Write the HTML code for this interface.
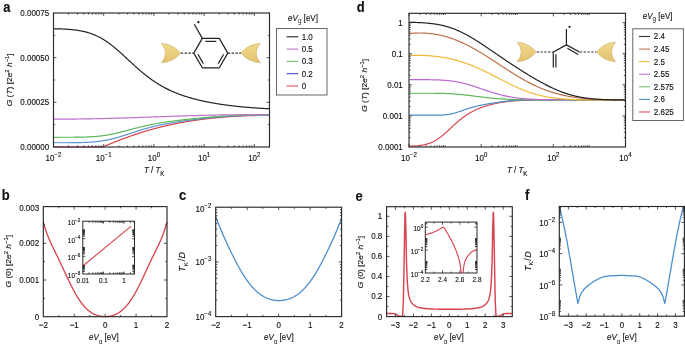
<!DOCTYPE html>
<html><head><meta charset="utf-8"><style>
html,body{margin:0;padding:0;background:#fff;}
svg{display:block;filter:blur(0.35px);font-family:"Liberation Sans", sans-serif;}
text{fill:#111;stroke:#111;stroke-width:0.12px;}
</style></head><body>
<svg width="685" height="344" viewBox="0 0 685 344">
<defs><linearGradient id="gold" x1="0" y1="0" x2="0" y2="1"><stop offset="0" stop-color="#f1da8c"/><stop offset="1" stop-color="#e4c170"/></linearGradient></defs>
<rect width="685" height="344" fill="#fff"/>
<path d="M53.5,147 L103,147" fill="none" stroke="#c8323c" stroke-width="1.0" stroke-linejoin="round"/>
<path d="M103,147 L103.5,146.56 L104,146.35 L104.5,146.15 L105,145.94 L105.5,145.73 L106,145.53 L106.5,145.32 L107,145.12 L107.5,144.91 L108,144.71 L108.5,144.51 L109,144.3 L109.5,144.1 L110,143.9 L110.5,143.7 L111,143.49 L111.5,143.29 L112,143.09 L112.5,142.89 L113,142.69 L113.5,142.5 L114,142.3 L114.5,142.1 L115,141.9 L115.5,141.71 L116,141.51 L116.5,141.32 L117,141.12 L117.5,140.93 L118,140.73 L118.5,140.54 L119,140.35 L119.5,140.16 L120,139.97 L120.5,139.78 L121,139.59 L121.5,139.4 L122,139.21 L122.5,139.02 L123,138.83 L123.5,138.65 L124,138.46 L124.5,138.28 L125,138.09 L125.5,137.91 L126,137.73 L126.5,137.55 L127,137.37 L127.5,137.19 L128,137.01 L128.5,136.83 L129,136.65 L129.5,136.47 L130,136.3 L130.5,136.12 L131,135.95 L131.5,135.77 L132,135.6 L132.5,135.43 L133,135.25 L133.5,135.08 L134,134.91 L134.5,134.74 L135,134.57 L135.5,134.41 L136,134.24 L136.5,134.07 L137,133.91 L137.5,133.74 L138,133.58 L138.5,133.42 L139,133.26 L139.5,133.1 L140,132.94 L140.5,132.78 L141,132.62 L141.5,132.46 L142,132.3 L142.5,132.15 L143,131.99 L143.5,131.84 L144,131.68 L144.5,131.53 L145,131.38 L145.5,131.23 L146,131.08 L146.5,130.93 L147,130.78 L147.5,130.63 L148,130.49 L148.5,130.34 L149,130.2 L149.5,130.05 L150,129.91 L150.5,129.77 L151,129.63 L151.5,129.48 L152,129.35 L152.5,129.21 L153,129.07 L153.5,128.93 L154,128.79 L154.5,128.66 L155,128.52 L155.5,128.39 L156,128.26 L156.5,128.13 L157,127.99 L157.5,127.86 L158,127.73 L158.5,127.61 L159,127.48 L159.5,127.35 L160,127.22 L160.5,127.1 L161,126.98 L161.5,126.85 L162,126.73 L162.5,126.61 L163,126.49 L163.5,126.37 L164,126.25 L164.5,126.13 L165,126.01 L165.5,125.89 L166,125.78 L166.5,125.66 L167,125.55 L167.5,125.43 L168,125.32 L168.5,125.21 L169,125.1 L169.5,124.98 L170,124.88 L170.5,124.77 L171,124.66 L171.5,124.55 L172,124.44 L172.5,124.34 L173,124.23 L173.5,124.13 L174,124.03 L174.5,123.92 L175,123.82 L175.5,123.72 L176,123.62 L176.5,123.52 L177,123.42 L177.5,123.32 L178,123.23 L178.5,123.13 L179,123.03 L179.5,122.94 L180,122.84 L180.5,122.75 L181,122.66 L181.5,122.56 L182,122.47 L182.5,122.38 L183,122.29 L183.5,122.2 L184,122.11 L184.5,122.03 L185,121.94 L185.5,121.85 L186,121.77 L186.5,121.68 L187,121.6 L187.5,121.52 L188,121.43 L188.5,121.35 L189,121.27 L189.5,121.19 L190,121.11 L190.5,121.03 L191,120.95 L191.5,120.87 L192,120.79 L192.5,120.72 L193,120.64 L193.5,120.57 L194,120.49 L194.5,120.42 L195,120.34 L195.5,120.27 L196,120.2 L196.5,120.13 L197,120.06 L197.5,119.99 L198,119.92 L198.5,119.85 L199,119.78 L199.5,119.71 L200,119.64 L200.5,119.58 L201,119.51 L201.5,119.45 L202,119.38 L202.5,119.32 L203,119.26 L203.5,119.19 L204,119.13 L204.5,119.07 L205,119.01 L205.5,118.95 L206,118.89 L206.5,118.83 L207,118.77 L207.5,118.71 L208,118.65 L208.5,118.6 L209,118.54 L209.5,118.49 L210,118.43 L210.5,118.38 L211,118.32 L211.5,118.27 L212,118.22 L212.5,118.16 L213,118.11 L213.5,118.06 L214,118.01 L214.5,117.96 L215,117.91 L215.5,117.86 L216,117.81 L216.5,117.76 L217,117.72 L217.5,117.67 L218,117.62 L218.5,117.58 L219,117.53 L219.5,117.49 L220,117.44 L220.5,117.4 L221,117.36 L221.5,117.31 L222,117.27 L222.5,117.23 L223,117.19 L223.5,117.15 L224,117.11 L224.5,117.07 L225,117.03 L225.5,116.99 L226,116.95 L226.5,116.91 L227,116.88 L227.5,116.84 L228,116.8 L228.5,116.77 L229,116.73 L229.5,116.7 L230,116.66 L230.5,116.63 L231,116.6 L231.5,116.56 L232,116.53 L232.5,116.5 L233,116.47 L233.5,116.44 L234,116.41 L234.5,116.38 L235,116.35 L235.5,116.32 L236,116.29 L236.5,116.26 L237,116.23 L237.5,116.21 L238,116.18 L238.5,116.15 L239,116.13 L239.5,116.1 L240,116.08 L240.5,116.05 L241,116.03 L241.5,116 L242,115.98 L242.5,115.96 L243,115.94 L243.5,115.91 L244,115.89 L244.5,115.87 L245,115.85 L245.5,115.83 L246,115.81 L246.5,115.79 L247,115.77 L247.5,115.76 L248,115.74 L248.5,115.72 L249,115.7 L249.5,115.69 L250,115.67 L250.5,115.66 L251,115.64 L251.5,115.63 L252,115.61 L252.5,115.6 L253,115.58 L253.5,115.57 L254,115.56 L254.5,115.55 L255,115.53 L255.5,115.52 L256,115.51 L256.5,115.5 L257,115.49 L257.5,115.48 L258,115.47 L258.5,115.46 L259,115.46 L259.5,115.45 L260,115.44 L260.5,115.43 L261,115.43 L261.5,115.42 L262,115.41 L262.5,115.41 L263,115.4 L263.5,115.4 L264,115.4 L264.5,115.39 L265,115.39 L265.5,115.39 L266,115.38 L266.5,115.38 L267,115.38 L267.5,115.38 L268,115.38 L268.5,115.38 L269,115.38 L269.5,115.38" fill="none" stroke="#d8404a" stroke-width="1.2" stroke-linejoin="round"/>
<path d="M53.5,142.76 L54,142.76 L54.5,142.76 L55,142.76 L55.5,142.76 L56,142.76 L56.5,142.76 L57,142.76 L57.5,142.76 L58,142.76 L58.5,142.76 L59,142.76 L59.5,142.76 L60,142.76 L60.5,142.76 L61,142.75 L61.5,142.75 L62,142.75 L62.5,142.75 L63,142.75 L63.5,142.75 L64,142.75 L64.5,142.75 L65,142.74 L65.5,142.74 L66,142.74 L66.5,142.74 L67,142.74 L67.5,142.73 L68,142.73 L68.5,142.73 L69,142.73 L69.5,142.72 L70,142.72 L70.5,142.72 L71,142.71 L71.5,142.71 L72,142.7 L72.5,142.7 L73,142.69 L73.5,142.69 L74,142.68 L74.5,142.68 L75,142.67 L75.5,142.66 L76,142.66 L76.5,142.65 L77,142.64 L77.5,142.63 L78,142.62 L78.5,142.61 L79,142.6 L79.5,142.59 L80,142.58 L80.5,142.57 L81,142.56 L81.5,142.54 L82,142.53 L82.5,142.51 L83,142.5 L83.5,142.48 L84,142.46 L84.5,142.44 L85,142.43 L85.5,142.41 L86,142.38 L86.5,142.36 L87,142.34 L87.5,142.31 L88,142.29 L88.5,142.26 L89,142.23 L89.5,142.2 L90,142.17 L90.5,142.14 L91,142.11 L91.5,142.07 L92,142.03 L92.5,142 L93,141.96 L93.5,141.92 L94,141.87 L94.5,141.83 L95,141.78 L95.5,141.73 L96,141.68 L96.5,141.63 L97,141.58 L97.5,141.52 L98,141.46 L98.5,141.4 L99,141.34 L99.5,141.28 L100,141.21 L100.5,141.14 L101,141.07 L101.5,141 L102,140.92 L102.5,140.85 L103,140.77 L103.5,140.68 L104,140.6 L104.5,140.51 L105,140.42 L105.5,140.33 L106,140.24 L106.5,140.14 L107,140.05 L107.5,139.95 L108,139.84 L108.5,139.74 L109,139.63 L109.5,139.52 L110,139.41 L110.5,139.29 L111,139.18 L111.5,139.06 L112,138.93 L112.5,138.81 L113,138.69 L113.5,138.56 L114,138.43 L114.5,138.3 L115,138.16 L115.5,138.03 L116,137.89 L116.5,137.75 L117,137.61 L117.5,137.46 L118,137.32 L118.5,137.17 L119,137.03 L119.5,136.88 L120,136.73 L120.5,136.57 L121,136.42 L121.5,136.27 L122,136.11 L122.5,135.95 L123,135.8 L123.5,135.64 L124,135.48 L124.5,135.32 L125,135.16 L125.5,134.99 L126,134.83 L126.5,134.67 L127,134.51 L127.5,134.34 L128,134.18 L128.5,134.01 L129,133.85 L129.5,133.69 L130,133.52 L130.5,133.36 L131,133.19 L131.5,133.03 L132,132.87 L132.5,132.7 L133,132.54 L133.5,132.38 L134,132.21 L134.5,132.05 L135,131.89 L135.5,131.73 L136,131.57 L136.5,131.41 L137,131.25 L137.5,131.09 L138,130.94 L138.5,130.78 L139,130.62 L139.5,130.47 L140,130.32 L140.5,130.16 L141,130.01 L141.5,129.86 L142,129.71 L142.5,129.56 L143,129.42 L143.5,129.27 L144,129.12 L144.5,128.98 L145,128.84 L145.5,128.7 L146,128.55 L146.5,128.42 L147,128.28 L147.5,128.14 L148,128 L148.5,127.87 L149,127.74 L149.5,127.6 L150,127.47 L150.5,127.34 L151,127.22 L151.5,127.09 L152,126.96 L152.5,126.84 L153,126.71 L153.5,126.59 L154,126.47 L154.5,126.35 L155,126.23 L155.5,126.11 L156,126 L156.5,125.88 L157,125.77 L157.5,125.66 L158,125.54 L158.5,125.43 L159,125.32 L159.5,125.21 L160,125.11 L160.5,125 L161,124.89 L161.5,124.79 L162,124.69 L162.5,124.58 L163,124.48 L163.5,124.38 L164,124.28 L164.5,124.19 L165,124.09 L165.5,123.99 L166,123.9 L166.5,123.8 L167,123.71 L167.5,123.61 L168,123.52 L168.5,123.43 L169,123.34 L169.5,123.25 L170,123.16 L170.5,123.07 L171,122.99 L171.5,122.9 L172,122.81 L172.5,122.73 L173,122.65 L173.5,122.56 L174,122.48 L174.5,122.4 L175,122.32 L175.5,122.23 L176,122.15 L176.5,122.07 L177,122 L177.5,121.92 L178,121.84 L178.5,121.76 L179,121.69 L179.5,121.61 L180,121.54 L180.5,121.46 L181,121.39 L181.5,121.31 L182,121.24 L182.5,121.17 L183,121.09 L183.5,121.02 L184,120.95 L184.5,120.88 L185,120.81 L185.5,120.74 L186,120.67 L186.5,120.6 L187,120.53 L187.5,120.47 L188,120.4 L188.5,120.33 L189,120.26 L189.5,120.2 L190,120.13 L190.5,120.07 L191,120 L191.5,119.94 L192,119.87 L192.5,119.81 L193,119.74 L193.5,119.68 L194,119.62 L194.5,119.56 L195,119.49 L195.5,119.43 L196,119.37 L196.5,119.31 L197,119.25 L197.5,119.19 L198,119.13 L198.5,119.07 L199,119.01 L199.5,118.95 L200,118.9 L200.5,118.84 L201,118.78 L201.5,118.72 L202,118.67 L202.5,118.61 L203,118.56 L203.5,118.5 L204,118.45 L204.5,118.39 L205,118.34 L205.5,118.28 L206,118.23 L206.5,118.18 L207,118.12 L207.5,118.07 L208,118.02 L208.5,117.97 L209,117.92 L209.5,117.87 L210,117.82 L210.5,117.77 L211,117.72 L211.5,117.67 L212,117.62 L212.5,117.57 L213,117.53 L213.5,117.48 L214,117.43 L214.5,117.39 L215,117.34 L215.5,117.3 L216,117.25 L216.5,117.21 L217,117.16 L217.5,117.12 L218,117.08 L218.5,117.04 L219,116.99 L219.5,116.95 L220,116.91 L220.5,116.87 L221,116.83 L221.5,116.79 L222,116.75 L222.5,116.72 L223,116.68 L223.5,116.64 L224,116.6 L224.5,116.57 L225,116.53 L225.5,116.5 L226,116.46 L226.5,116.43 L227,116.4 L227.5,116.36 L228,116.33 L228.5,116.3 L229,116.27 L229.5,116.24 L230,116.21 L230.5,116.18 L231,116.15 L231.5,116.12 L232,116.09 L232.5,116.07 L233,116.04 L233.5,116.01 L234,115.99 L234.5,115.96 L235,115.94 L235.5,115.91 L236,115.89 L236.5,115.87 L237,115.84 L237.5,115.82 L238,115.8 L238.5,115.78 L239,115.76 L239.5,115.74 L240,115.72 L240.5,115.7 L241,115.68 L241.5,115.66 L242,115.64 L242.5,115.63 L243,115.61 L243.5,115.59 L244,115.58 L244.5,115.56 L245,115.55 L245.5,115.53 L246,115.52 L246.5,115.5 L247,115.49 L247.5,115.48 L248,115.47 L248.5,115.45 L249,115.44 L249.5,115.43 L250,115.42 L250.5,115.41 L251,115.4 L251.5,115.39 L252,115.38 L252.5,115.37 L253,115.36 L253.5,115.35 L254,115.34 L254.5,115.33 L255,115.33 L255.5,115.32 L256,115.31 L256.5,115.3 L257,115.3 L257.5,115.29 L258,115.29 L258.5,115.28 L259,115.27 L259.5,115.27 L260,115.26 L260.5,115.26 L261,115.25 L261.5,115.25 L262,115.24 L262.5,115.24 L263,115.24 L263.5,115.23 L264,115.23 L264.5,115.22 L265,115.22 L265.5,115.22 L266,115.21 L266.5,115.21 L267,115.21 L267.5,115.21 L268,115.2 L268.5,115.2 L269,115.2 L269.5,115.2" fill="none" stroke="#5b93d0" stroke-width="1.2" stroke-linejoin="round"/>
<path d="M53.5,137.28 L54,137.28 L54.5,137.28 L55,137.28 L55.5,137.28 L56,137.28 L56.5,137.28 L57,137.28 L57.5,137.28 L58,137.28 L58.5,137.28 L59,137.28 L59.5,137.28 L60,137.27 L60.5,137.27 L61,137.27 L61.5,137.27 L62,137.27 L62.5,137.27 L63,137.27 L63.5,137.27 L64,137.27 L64.5,137.27 L65,137.27 L65.5,137.27 L66,137.26 L66.5,137.26 L67,137.26 L67.5,137.26 L68,137.26 L68.5,137.26 L69,137.25 L69.5,137.25 L70,137.25 L70.5,137.25 L71,137.24 L71.5,137.24 L72,137.24 L72.5,137.24 L73,137.23 L73.5,137.23 L74,137.22 L74.5,137.22 L75,137.22 L75.5,137.21 L76,137.21 L76.5,137.2 L77,137.19 L77.5,137.19 L78,137.18 L78.5,137.17 L79,137.17 L79.5,137.16 L80,137.15 L80.5,137.14 L81,137.13 L81.5,137.12 L82,137.11 L82.5,137.1 L83,137.09 L83.5,137.07 L84,137.06 L84.5,137.05 L85,137.03 L85.5,137.02 L86,137 L86.5,136.98 L87,136.96 L87.5,136.94 L88,136.92 L88.5,136.9 L89,136.88 L89.5,136.86 L90,136.83 L90.5,136.81 L91,136.78 L91.5,136.75 L92,136.72 L92.5,136.69 L93,136.66 L93.5,136.63 L94,136.59 L94.5,136.56 L95,136.52 L95.5,136.48 L96,136.44 L96.5,136.4 L97,136.35 L97.5,136.31 L98,136.26 L98.5,136.21 L99,136.16 L99.5,136.11 L100,136.05 L100.5,136 L101,135.94 L101.5,135.88 L102,135.82 L102.5,135.75 L103,135.69 L103.5,135.62 L104,135.55 L104.5,135.48 L105,135.4 L105.5,135.33 L106,135.25 L106.5,135.17 L107,135.09 L107.5,135.01 L108,134.92 L108.5,134.83 L109,134.74 L109.5,134.65 L110,134.56 L110.5,134.46 L111,134.36 L111.5,134.26 L112,134.16 L112.5,134.06 L113,133.96 L113.5,133.85 L114,133.74 L114.5,133.63 L115,133.52 L115.5,133.41 L116,133.29 L116.5,133.17 L117,133.06 L117.5,132.94 L118,132.82 L118.5,132.7 L119,132.57 L119.5,132.45 L120,132.32 L120.5,132.2 L121,132.07 L121.5,131.94 L122,131.81 L122.5,131.68 L123,131.55 L123.5,131.42 L124,131.29 L124.5,131.16 L125,131.02 L125.5,130.89 L126,130.76 L126.5,130.62 L127,130.49 L127.5,130.35 L128,130.22 L128.5,130.09 L129,129.95 L129.5,129.82 L130,129.68 L130.5,129.55 L131,129.41 L131.5,129.28 L132,129.15 L132.5,129.01 L133,128.88 L133.5,128.75 L134,128.62 L134.5,128.49 L135,128.36 L135.5,128.23 L136,128.1 L136.5,127.97 L137,127.84 L137.5,127.71 L138,127.59 L138.5,127.46 L139,127.34 L139.5,127.21 L140,127.09 L140.5,126.97 L141,126.85 L141.5,126.73 L142,126.61 L142.5,126.49 L143,126.37 L143.5,126.25 L144,126.14 L144.5,126.02 L145,125.91 L145.5,125.8 L146,125.69 L146.5,125.58 L147,125.47 L147.5,125.36 L148,125.25 L148.5,125.14 L149,125.04 L149.5,124.94 L150,124.83 L150.5,124.73 L151,124.63 L151.5,124.53 L152,124.43 L152.5,124.33 L153,124.23 L153.5,124.14 L154,124.04 L154.5,123.95 L155,123.86 L155.5,123.76 L156,123.67 L156.5,123.58 L157,123.49 L157.5,123.4 L158,123.32 L158.5,123.23 L159,123.14 L159.5,123.06 L160,122.98 L160.5,122.89 L161,122.81 L161.5,122.73 L162,122.65 L162.5,122.57 L163,122.49 L163.5,122.41 L164,122.33 L164.5,122.25 L165,122.18 L165.5,122.1 L166,122.03 L166.5,121.95 L167,121.88 L167.5,121.81 L168,121.73 L168.5,121.66 L169,121.59 L169.5,121.52 L170,121.45 L170.5,121.38 L171,121.31 L171.5,121.25 L172,121.18 L172.5,121.11 L173,121.04 L173.5,120.98 L174,120.91 L174.5,120.85 L175,120.78 L175.5,120.72 L176,120.65 L176.5,120.59 L177,120.53 L177.5,120.47 L178,120.4 L178.5,120.34 L179,120.28 L179.5,120.22 L180,120.16 L180.5,120.1 L181,120.04 L181.5,119.98 L182,119.92 L182.5,119.86 L183,119.81 L183.5,119.75 L184,119.69 L184.5,119.63 L185,119.58 L185.5,119.52 L186,119.46 L186.5,119.41 L187,119.35 L187.5,119.3 L188,119.24 L188.5,119.18 L189,119.13 L189.5,119.08 L190,119.02 L190.5,118.97 L191,118.91 L191.5,118.86 L192,118.81 L192.5,118.75 L193,118.7 L193.5,118.65 L194,118.6 L194.5,118.55 L195,118.49 L195.5,118.44 L196,118.39 L196.5,118.34 L197,118.29 L197.5,118.24 L198,118.19 L198.5,118.14 L199,118.09 L199.5,118.04 L200,117.99 L200.5,117.95 L201,117.9 L201.5,117.85 L202,117.8 L202.5,117.75 L203,117.71 L203.5,117.66 L204,117.61 L204.5,117.57 L205,117.52 L205.5,117.47 L206,117.43 L206.5,117.38 L207,117.34 L207.5,117.3 L208,117.25 L208.5,117.21 L209,117.16 L209.5,117.12 L210,117.08 L210.5,117.04 L211,116.99 L211.5,116.95 L212,116.91 L212.5,116.87 L213,116.83 L213.5,116.79 L214,116.75 L214.5,116.71 L215,116.67 L215.5,116.63 L216,116.6 L216.5,116.56 L217,116.52 L217.5,116.48 L218,116.45 L218.5,116.41 L219,116.38 L219.5,116.34 L220,116.31 L220.5,116.27 L221,116.24 L221.5,116.21 L222,116.17 L222.5,116.14 L223,116.11 L223.5,116.08 L224,116.05 L224.5,116.02 L225,115.99 L225.5,115.96 L226,115.93 L226.5,115.9 L227,115.87 L227.5,115.85 L228,115.82 L228.5,115.79 L229,115.77 L229.5,115.74 L230,115.72 L230.5,115.69 L231,115.67 L231.5,115.65 L232,115.62 L232.5,115.6 L233,115.58 L233.5,115.56 L234,115.54 L234.5,115.52 L235,115.5 L235.5,115.48 L236,115.46 L236.5,115.44 L237,115.42 L237.5,115.4 L238,115.39 L238.5,115.37 L239,115.35 L239.5,115.34 L240,115.32 L240.5,115.31 L241,115.29 L241.5,115.28 L242,115.26 L242.5,115.25 L243,115.24 L243.5,115.22 L244,115.21 L244.5,115.2 L245,115.19 L245.5,115.18 L246,115.17 L246.5,115.16 L247,115.15 L247.5,115.14 L248,115.13 L248.5,115.12 L249,115.11 L249.5,115.1 L250,115.09 L250.5,115.09 L251,115.08 L251.5,115.07 L252,115.06 L252.5,115.06 L253,115.05 L253.5,115.05 L254,115.04 L254.5,115.03 L255,115.03 L255.5,115.02 L256,115.02 L256.5,115.01 L257,115.01 L257.5,115 L258,115 L258.5,115 L259,114.99 L259.5,114.99 L260,114.99 L260.5,114.98 L261,114.98 L261.5,114.98 L262,114.97 L262.5,114.97 L263,114.97 L263.5,114.96 L264,114.96 L264.5,114.96 L265,114.96 L265.5,114.96 L266,114.95 L266.5,114.95 L267,114.95 L267.5,114.95 L268,114.95 L268.5,114.95 L269,114.94 L269.5,114.94" fill="none" stroke="#5fb85a" stroke-width="1.2" stroke-linejoin="round"/>
<path d="M53.5,119.08 L54,119.08 L54.5,119.09 L55,119.09 L55.5,119.09 L56,119.09 L56.5,119.1 L57,119.1 L57.5,119.1 L58,119.1 L58.5,119.1 L59,119.1 L59.5,119.1 L60,119.11 L60.5,119.11 L61,119.11 L61.5,119.11 L62,119.11 L62.5,119.11 L63,119.11 L63.5,119.11 L64,119.1 L64.5,119.1 L65,119.1 L65.5,119.1 L66,119.1 L66.5,119.1 L67,119.1 L67.5,119.09 L68,119.09 L68.5,119.09 L69,119.09 L69.5,119.08 L70,119.08 L70.5,119.08 L71,119.07 L71.5,119.07 L72,119.07 L72.5,119.06 L73,119.06 L73.5,119.06 L74,119.05 L74.5,119.05 L75,119.04 L75.5,119.04 L76,119.03 L76.5,119.03 L77,119.02 L77.5,119.02 L78,119.01 L78.5,119.01 L79,119 L79.5,118.99 L80,118.99 L80.5,118.98 L81,118.98 L81.5,118.97 L82,118.96 L82.5,118.96 L83,118.95 L83.5,118.94 L84,118.93 L84.5,118.93 L85,118.92 L85.5,118.91 L86,118.9 L86.5,118.89 L87,118.89 L87.5,118.88 L88,118.87 L88.5,118.86 L89,118.85 L89.5,118.84 L90,118.83 L90.5,118.83 L91,118.82 L91.5,118.81 L92,118.8 L92.5,118.79 L93,118.78 L93.5,118.77 L94,118.76 L94.5,118.75 L95,118.74 L95.5,118.73 L96,118.72 L96.5,118.71 L97,118.7 L97.5,118.68 L98,118.67 L98.5,118.66 L99,118.65 L99.5,118.64 L100,118.63 L100.5,118.62 L101,118.61 L101.5,118.59 L102,118.58 L102.5,118.57 L103,118.56 L103.5,118.55 L104,118.53 L104.5,118.52 L105,118.51 L105.5,118.5 L106,118.48 L106.5,118.47 L107,118.46 L107.5,118.44 L108,118.43 L108.5,118.42 L109,118.4 L109.5,118.39 L110,118.38 L110.5,118.36 L111,118.35 L111.5,118.34 L112,118.32 L112.5,118.31 L113,118.3 L113.5,118.28 L114,118.27 L114.5,118.25 L115,118.24 L115.5,118.22 L116,118.21 L116.5,118.19 L117,118.18 L117.5,118.17 L118,118.15 L118.5,118.14 L119,118.12 L119.5,118.11 L120,118.09 L120.5,118.08 L121,118.06 L121.5,118.04 L122,118.03 L122.5,118.01 L123,118 L123.5,117.98 L124,117.97 L124.5,117.95 L125,117.94 L125.5,117.92 L126,117.9 L126.5,117.89 L127,117.87 L127.5,117.86 L128,117.84 L128.5,117.82 L129,117.81 L129.5,117.79 L130,117.77 L130.5,117.76 L131,117.74 L131.5,117.73 L132,117.71 L132.5,117.69 L133,117.68 L133.5,117.66 L134,117.64 L134.5,117.63 L135,117.61 L135.5,117.59 L136,117.57 L136.5,117.56 L137,117.54 L137.5,117.52 L138,117.51 L138.5,117.49 L139,117.47 L139.5,117.45 L140,117.44 L140.5,117.42 L141,117.4 L141.5,117.39 L142,117.37 L142.5,117.35 L143,117.33 L143.5,117.32 L144,117.3 L144.5,117.28 L145,117.26 L145.5,117.25 L146,117.23 L146.5,117.21 L147,117.19 L147.5,117.18 L148,117.16 L148.5,117.14 L149,117.12 L149.5,117.11 L150,117.09 L150.5,117.07 L151,117.05 L151.5,117.04 L152,117.02 L152.5,117 L153,116.98 L153.5,116.96 L154,116.95 L154.5,116.93 L155,116.91 L155.5,116.89 L156,116.88 L156.5,116.86 L157,116.84 L157.5,116.82 L158,116.8 L158.5,116.79 L159,116.77 L159.5,116.75 L160,116.73 L160.5,116.72 L161,116.7 L161.5,116.68 L162,116.66 L162.5,116.65 L163,116.63 L163.5,116.61 L164,116.59 L164.5,116.58 L165,116.56 L165.5,116.54 L166,116.52 L166.5,116.51 L167,116.49 L167.5,116.47 L168,116.45 L168.5,116.44 L169,116.42 L169.5,116.4 L170,116.38 L170.5,116.37 L171,116.35 L171.5,116.33 L172,116.31 L172.5,116.3 L173,116.28 L173.5,116.26 L174,116.25 L174.5,116.23 L175,116.21 L175.5,116.19 L176,116.18 L176.5,116.16 L177,116.14 L177.5,116.13 L178,116.11 L178.5,116.09 L179,116.08 L179.5,116.06 L180,116.04 L180.5,116.03 L181,116.01 L181.5,115.99 L182,115.98 L182.5,115.96 L183,115.94 L183.5,115.93 L184,115.91 L184.5,115.9 L185,115.88 L185.5,115.86 L186,115.85 L186.5,115.83 L187,115.82 L187.5,115.8 L188,115.79 L188.5,115.77 L189,115.75 L189.5,115.74 L190,115.72 L190.5,115.71 L191,115.69 L191.5,115.68 L192,115.66 L192.5,115.65 L193,115.63 L193.5,115.62 L194,115.6 L194.5,115.59 L195,115.57 L195.5,115.56 L196,115.54 L196.5,115.53 L197,115.51 L197.5,115.5 L198,115.49 L198.5,115.47 L199,115.46 L199.5,115.44 L200,115.43 L200.5,115.42 L201,115.4 L201.5,115.39 L202,115.38 L202.5,115.36 L203,115.35 L203.5,115.33 L204,115.32 L204.5,115.31 L205,115.3 L205.5,115.28 L206,115.27 L206.5,115.26 L207,115.24 L207.5,115.23 L208,115.22 L208.5,115.21 L209,115.2 L209.5,115.18 L210,115.17 L210.5,115.16 L211,115.15 L211.5,115.14 L212,115.12 L212.5,115.11 L213,115.1 L213.5,115.09 L214,115.08 L214.5,115.07 L215,115.06 L215.5,115.05 L216,115.04 L216.5,115.03 L217,115.02 L217.5,115.01 L218,115 L218.5,114.99 L219,114.98 L219.5,114.97 L220,114.96 L220.5,114.95 L221,114.94 L221.5,114.93 L222,114.92 L222.5,114.91 L223,114.9 L223.5,114.89 L224,114.88 L224.5,114.88 L225,114.87 L225.5,114.86 L226,114.85 L226.5,114.84 L227,114.84 L227.5,114.83 L228,114.82 L228.5,114.81 L229,114.81 L229.5,114.8 L230,114.79 L230.5,114.79 L231,114.78 L231.5,114.77 L232,114.77 L232.5,114.76 L233,114.75 L233.5,114.75 L234,114.74 L234.5,114.74 L235,114.73 L235.5,114.73 L236,114.72 L236.5,114.72 L237,114.71 L237.5,114.71 L238,114.7 L238.5,114.7 L239,114.7 L239.5,114.69 L240,114.69 L240.5,114.68 L241,114.68 L241.5,114.68 L242,114.68 L242.5,114.67 L243,114.67 L243.5,114.67 L244,114.66 L244.5,114.66 L245,114.66 L245.5,114.66 L246,114.66 L246.5,114.66 L247,114.65 L247.5,114.65 L248,114.65 L248.5,114.65 L249,114.65 L249.5,114.65 L250,114.65 L250.5,114.65 L251,114.65 L251.5,114.65 L252,114.65 L252.5,114.65 L253,114.65 L253.5,114.65 L254,114.66 L254.5,114.66 L255,114.66 L255.5,114.66 L256,114.66 L256.5,114.67 L257,114.67 L257.5,114.67 L258,114.67 L258.5,114.68 L259,114.68 L259.5,114.68 L260,114.69 L260.5,114.69 L261,114.7 L261.5,114.7 L262,114.71 L262.5,114.71 L263,114.72 L263.5,114.72 L264,114.73 L264.5,114.73 L265,114.74 L265.5,114.74 L266,114.75 L266.5,114.76 L267,114.76 L267.5,114.77 L268,114.78 L268.5,114.78 L269,114.79 L269.5,114.8" fill="none" stroke="#c070d0" stroke-width="1.2" stroke-linejoin="round"/>
<path d="M53.5,28.75 L54,28.76 L54.5,28.77 L55,28.78 L55.5,28.79 L56,28.8 L56.5,28.81 L57,28.83 L57.5,28.84 L58,28.85 L58.5,28.87 L59,28.88 L59.5,28.9 L60,28.92 L60.5,28.93 L61,28.95 L61.5,28.97 L62,28.99 L62.5,29.01 L63,29.04 L63.5,29.06 L64,29.08 L64.5,29.11 L65,29.14 L65.5,29.16 L66,29.19 L66.5,29.22 L67,29.25 L67.5,29.29 L68,29.32 L68.5,29.36 L69,29.4 L69.5,29.43 L70,29.48 L70.5,29.52 L71,29.56 L71.5,29.61 L72,29.66 L72.5,29.71 L73,29.76 L73.5,29.81 L74,29.87 L74.5,29.92 L75,29.99 L75.5,30.05 L76,30.11 L76.5,30.18 L77,30.25 L77.5,30.32 L78,30.4 L78.5,30.48 L79,30.56 L79.5,30.64 L80,30.73 L80.5,30.82 L81,30.91 L81.5,31.01 L82,31.11 L82.5,31.21 L83,31.32 L83.5,31.43 L84,31.54 L84.5,31.66 L85,31.78 L85.5,31.9 L86,32.03 L86.5,32.16 L87,32.3 L87.5,32.44 L88,32.59 L88.5,32.74 L89,32.89 L89.5,33.05 L90,33.21 L90.5,33.38 L91,33.55 L91.5,33.73 L92,33.91 L92.5,34.1 L93,34.29 L93.5,34.49 L94,34.69 L94.5,34.89 L95,35.11 L95.5,35.32 L96,35.54 L96.5,35.77 L97,36.01 L97.5,36.24 L98,36.49 L98.5,36.74 L99,36.99 L99.5,37.25 L100,37.52 L100.5,37.79 L101,38.06 L101.5,38.35 L102,38.63 L102.5,38.93 L103,39.22 L103.5,39.53 L104,39.84 L104.5,40.15 L105,40.47 L105.5,40.8 L106,41.13 L106.5,41.47 L107,41.81 L107.5,42.16 L108,42.51 L108.5,42.86 L109,43.23 L109.5,43.59 L110,43.97 L110.5,44.34 L111,44.72 L111.5,45.11 L112,45.5 L112.5,45.89 L113,46.29 L113.5,46.7 L114,47.1 L114.5,47.52 L115,47.93 L115.5,48.35 L116,48.77 L116.5,49.2 L117,49.63 L117.5,50.06 L118,50.5 L118.5,50.93 L119,51.38 L119.5,51.82 L120,52.27 L120.5,52.71 L121,53.17 L121.5,53.62 L122,54.07 L122.5,54.53 L123,54.99 L123.5,55.45 L124,55.91 L124.5,56.37 L125,56.83 L125.5,57.3 L126,57.76 L126.5,58.23 L127,58.69 L127.5,59.16 L128,59.62 L128.5,60.09 L129,60.55 L129.5,61.02 L130,61.48 L130.5,61.95 L131,62.41 L131.5,62.87 L132,63.34 L132.5,63.8 L133,64.26 L133.5,64.71 L134,65.17 L134.5,65.62 L135,66.08 L135.5,66.53 L136,66.98 L136.5,67.42 L137,67.87 L137.5,68.31 L138,68.75 L138.5,69.19 L139,69.63 L139.5,70.06 L140,70.49 L140.5,70.92 L141,71.34 L141.5,71.77 L142,72.19 L142.5,72.6 L143,73.02 L143.5,73.43 L144,73.83 L144.5,74.24 L145,74.64 L145.5,75.04 L146,75.43 L146.5,75.82 L147,76.21 L147.5,76.59 L148,76.97 L148.5,77.35 L149,77.73 L149.5,78.1 L150,78.46 L150.5,78.83 L151,79.19 L151.5,79.54 L152,79.9 L152.5,80.25 L153,80.59 L153.5,80.93 L154,81.27 L154.5,81.61 L155,81.94 L155.5,82.27 L156,82.59 L156.5,82.92 L157,83.23 L157.5,83.55 L158,83.86 L158.5,84.17 L159,84.47 L159.5,84.77 L160,85.07 L160.5,85.36 L161,85.65 L161.5,85.94 L162,86.23 L162.5,86.51 L163,86.78 L163.5,87.06 L164,87.33 L164.5,87.6 L165,87.86 L165.5,88.12 L166,88.38 L166.5,88.64 L167,88.89 L167.5,89.14 L168,89.39 L168.5,89.63 L169,89.87 L169.5,90.11 L170,90.34 L170.5,90.58 L171,90.81 L171.5,91.03 L172,91.26 L172.5,91.48 L173,91.7 L173.5,91.91 L174,92.13 L174.5,92.34 L175,92.55 L175.5,92.75 L176,92.95 L176.5,93.16 L177,93.35 L177.5,93.55 L178,93.74 L178.5,93.94 L179,94.12 L179.5,94.31 L180,94.5 L180.5,94.68 L181,94.86 L181.5,95.04 L182,95.21 L182.5,95.39 L183,95.56 L183.5,95.73 L184,95.9 L184.5,96.06 L185,96.23 L185.5,96.39 L186,96.55 L186.5,96.71 L187,96.86 L187.5,97.02 L188,97.17 L188.5,97.32 L189,97.47 L189.5,97.62 L190,97.76 L190.5,97.91 L191,98.05 L191.5,98.19 L192,98.33 L192.5,98.47 L193,98.6 L193.5,98.74 L194,98.87 L194.5,99 L195,99.13 L195.5,99.26 L196,99.39 L196.5,99.52 L197,99.64 L197.5,99.76 L198,99.89 L198.5,100.01 L199,100.13 L199.5,100.24 L200,100.36 L200.5,100.48 L201,100.59 L201.5,100.7 L202,100.81 L202.5,100.92 L203,101.03 L203.5,101.14 L204,101.25 L204.5,101.35 L205,101.46 L205.5,101.56 L206,101.67 L206.5,101.77 L207,101.87 L207.5,101.97 L208,102.06 L208.5,102.16 L209,102.26 L209.5,102.35 L210,102.45 L210.5,102.54 L211,102.63 L211.5,102.72 L212,102.82 L212.5,102.9 L213,102.99 L213.5,103.08 L214,103.17 L214.5,103.25 L215,103.34 L215.5,103.42 L216,103.51 L216.5,103.59 L217,103.67 L217.5,103.75 L218,103.83 L218.5,103.91 L219,103.99 L219.5,104.07 L220,104.14 L220.5,104.22 L221,104.3 L221.5,104.37 L222,104.44 L222.5,104.52 L223,104.59 L223.5,104.66 L224,104.73 L224.5,104.8 L225,104.87 L225.5,104.94 L226,105.01 L226.5,105.08 L227,105.14 L227.5,105.21 L228,105.27 L228.5,105.34 L229,105.4 L229.5,105.47 L230,105.53 L230.5,105.59 L231,105.65 L231.5,105.71 L232,105.77 L232.5,105.83 L233,105.89 L233.5,105.95 L234,106.01 L234.5,106.06 L235,106.12 L235.5,106.18 L236,106.23 L236.5,106.29 L237,106.34 L237.5,106.39 L238,106.45 L238.5,106.5 L239,106.55 L239.5,106.6 L240,106.65 L240.5,106.7 L241,106.75 L241.5,106.8 L242,106.85 L242.5,106.9 L243,106.94 L243.5,106.99 L244,107.04 L244.5,107.08 L245,107.13 L245.5,107.17 L246,107.22 L246.5,107.26 L247,107.3 L247.5,107.35 L248,107.39 L248.5,107.43 L249,107.47 L249.5,107.51 L250,107.55 L250.5,107.59 L251,107.63 L251.5,107.67 L252,107.71 L252.5,107.74 L253,107.78 L253.5,107.82 L254,107.85 L254.5,107.89 L255,107.92 L255.5,107.96 L256,107.99 L256.5,108.03 L257,108.06 L257.5,108.09 L258,108.12 L258.5,108.16 L259,108.19 L259.5,108.22 L260,108.25 L260.5,108.28 L261,108.31 L261.5,108.34 L262,108.37 L262.5,108.4 L263,108.42 L263.5,108.45 L264,108.48 L264.5,108.51 L265,108.53 L265.5,108.56 L266,108.58 L266.5,108.61 L267,108.63 L267.5,108.66 L268,108.68 L268.5,108.7 L269,108.73 L269.5,108.75" fill="none" stroke="#222" stroke-width="1.2" stroke-linejoin="round"/>
<rect x="53.5" y="13" width="216" height="134" fill="none" stroke="#2a2a2a" stroke-width="1.15"/>
<path d="M53.5,147v-3M53.5,13v3M103.7,147v-3M103.7,13v3M153.9,147v-3M153.9,13v3M204.1,147v-3M204.1,13v3M254.3,147v-3M254.3,13v3" stroke="#2a2a2a" stroke-width="0.8" fill="none"/>
<path d="M68.61,147v-1.7M68.61,13v1.7M77.45,147v-1.7M77.45,13v1.7M83.72,147v-1.7M83.72,13v1.7M88.59,147v-1.7M88.59,13v1.7M92.56,147v-1.7M92.56,13v1.7M95.92,147v-1.7M95.92,13v1.7M98.84,147v-1.7M98.84,13v1.7M101.4,147v-1.7M101.4,13v1.7M118.81,147v-1.7M118.81,13v1.7M127.65,147v-1.7M127.65,13v1.7M133.92,147v-1.7M133.92,13v1.7M138.79,147v-1.7M138.79,13v1.7M142.76,147v-1.7M142.76,13v1.7M146.12,147v-1.7M146.12,13v1.7M149.04,147v-1.7M149.04,13v1.7M151.6,147v-1.7M151.6,13v1.7M169.01,147v-1.7M169.01,13v1.7M177.85,147v-1.7M177.85,13v1.7M184.12,147v-1.7M184.12,13v1.7M188.99,147v-1.7M188.99,13v1.7M192.96,147v-1.7M192.96,13v1.7M196.32,147v-1.7M196.32,13v1.7M199.24,147v-1.7M199.24,13v1.7M201.8,147v-1.7M201.8,13v1.7M219.21,147v-1.7M219.21,13v1.7M228.05,147v-1.7M228.05,13v1.7M234.32,147v-1.7M234.32,13v1.7M239.19,147v-1.7M239.19,13v1.7M243.16,147v-1.7M243.16,13v1.7M246.52,147v-1.7M246.52,13v1.7M249.44,147v-1.7M249.44,13v1.7M252,147v-1.7M252,13v1.7M269.41,147v-1.7M269.41,13v1.7" stroke="#2a2a2a" stroke-width="0.8" fill="none"/>
<path d="M53.5,102.33h3M269.5,102.33h-3M53.5,57.67h3M269.5,57.67h-3" stroke="#2a2a2a" stroke-width="0.8" fill="none"/>
<path d="M53.5,124.67h1.7M269.5,124.67h-1.7M53.5,80h1.7M269.5,80h-1.7M53.5,35.33h1.7M269.5,35.33h-1.7" stroke="#2a2a2a" stroke-width="0.8" fill="none"/>
<text transform="translate(49.2,149.9) scale(1,1.12)" font-size="8" text-anchor="end">0.00000</text>
<text transform="translate(49.2,105.23) scale(1,1.12)" font-size="8" text-anchor="end">0.00025</text>
<text transform="translate(49.2,60.57) scale(1,1.12)" font-size="8" text-anchor="end">0.00050</text>
<text transform="translate(49.2,15.9) scale(1,1.12)" font-size="8" text-anchor="end">0.00075</text>
<text transform="translate(53.5,161) scale(1,1.12)" font-size="8" text-anchor="middle">10<tspan font-size="6.1" dy="-3.6">−2</tspan></text>
<text transform="translate(103.7,161) scale(1,1.12)" font-size="8" text-anchor="middle">10<tspan font-size="6.1" dy="-3.6">−1</tspan></text>
<text transform="translate(153.9,161) scale(1,1.12)" font-size="8" text-anchor="middle">10<tspan font-size="6.1" dy="-3.6">0</tspan></text>
<text transform="translate(204.1,161) scale(1,1.12)" font-size="8" text-anchor="middle">10<tspan font-size="6.1" dy="-3.6">1</tspan></text>
<text transform="translate(254.3,161) scale(1,1.12)" font-size="8" text-anchor="middle">10<tspan font-size="6.1" dy="-3.6">2</tspan></text>
<text transform="translate(154.2,172.8) scale(1,1.12)" font-size="8" text-anchor="middle"><tspan font-style="italic">T</tspan> / <tspan font-style="italic">T</tspan><tspan font-size="6.2" dy="2.5">K</tspan></text>
<text transform="translate(12.3,79.8) rotate(-90) scale(1.05,1)" font-size="8" text-anchor="middle"><tspan font-style="italic">G</tspan> (<tspan font-style="italic">T</tspan>) [2<tspan font-style="italic">e</tspan><tspan font-size="5.6" dy="-3.2">2</tspan><tspan dy="3.2"> </tspan><tspan font-style="italic">h</tspan><tspan font-size="5.6" dy="-3.2">−1</tspan><tspan dy="3.2">]</tspan></text>
<text transform="translate(3.2,11.6) scale(1,1.18)" font-size="13" font-weight="bold">a</text>
<text transform="translate(303,21.4) scale(1,1.12)" font-size="8" text-anchor="middle"><tspan font-style="italic">eV</tspan><tspan font-size="6.4" dy="1.8" stroke-width="0">g</tspan><tspan dy="-1.8"> [eV]</tspan></text>
<rect x="276.5" y="28.5" width="50.5" height="66.5" fill="none" stroke="#555" stroke-width="0.9"/>
<path d="M286.6,36.8H298.3" stroke="#222" stroke-width="1.1"/>
<text transform="translate(301.7,39.7) scale(1,1.12)" font-size="8" text-anchor="start">1.0</text>
<path d="M286.6,49.1H298.3" stroke="#c070d0" stroke-width="1.1"/>
<text transform="translate(301.7,52) scale(1,1.12)" font-size="8" text-anchor="start">0.5</text>
<path d="M286.6,61.4H298.3" stroke="#70c070" stroke-width="1.1"/>
<text transform="translate(301.7,64.3) scale(1,1.12)" font-size="8" text-anchor="start">0.3</text>
<path d="M286.6,73.7H298.3" stroke="#3a50d0" stroke-width="1.1"/>
<text transform="translate(301.7,76.6) scale(1,1.12)" font-size="8" text-anchor="start">0.2</text>
<path d="M286.6,86H298.3" stroke="#e05060" stroke-width="1.1"/>
<text transform="translate(301.7,88.9) scale(1,1.12)" font-size="8" text-anchor="start">0</text>
<path d="M193.8,53.1 L202.3,38.38 L219.3,38.38 L227.8,53.1 L219.3,67.82 L202.3,67.82Z" fill="none" stroke="#222" stroke-width="1.2" stroke-linejoin="round"/>
<path d="M205.36,41.38L216.24,41.38" stroke="#222" stroke-width="1.2"/>
<path d="M223.67,54.25L218.23,63.67" stroke="#222" stroke-width="1.2"/>
<path d="M203.37,63.67L197.93,54.25" stroke="#222" stroke-width="1.2"/>
<path d="M202.3,38.38L194.3,24.2" stroke="#222" stroke-width="1.2"/>
<circle cx="198.4" cy="22.2" r="1.1" fill="#111"/>
<path d="M180.8,53.1H193.8M227.8,53.1H241" stroke="#333" stroke-width="1.05" stroke-dasharray="2.4,1.4"/>
<path d="M161.5,43.4 Q173.34,44.08 180.6,53.1 Q173.34,62.03 161.5,62.7 Q169.52,53.1 161.5,43.4Z" fill="url(#gold)" stroke="#c9aa5a" stroke-width="0.6"/>
<path d="M260.2,43.4 Q248.3,44.08 241,53.1 Q248.3,62.03 260.2,62.7 Q252.14,53.1 260.2,43.4Z" fill="url(#gold)" stroke="#c9aa5a" stroke-width="0.6"/>
<path d="M409.5,146.09 L410,146.07 L410.5,146.06 L411,146.04 L411.5,146.03 L412,146.01 L412.5,145.99 L413,145.97 L413.5,145.95 L414,145.92 L414.5,145.89 L415,145.87 L415.5,145.83 L416,145.8 L416.5,145.76 L417,145.73 L417.5,145.68 L418,145.64 L418.5,145.59 L419,145.54 L419.5,145.48 L420,145.42 L420.5,145.36 L421,145.29 L421.5,145.22 L422,145.14 L422.5,145.06 L423,144.97 L423.5,144.88 L424,144.78 L424.5,144.68 L425,144.57 L425.5,144.45 L426,144.33 L426.5,144.2 L427,144.07 L427.5,143.92 L428,143.77 L428.5,143.61 L429,143.44 L429.5,143.27 L430,143.09 L430.5,142.89 L431,142.69 L431.5,142.48 L432,142.26 L432.5,142.04 L433,141.8 L433.5,141.55 L434,141.3 L434.5,141.03 L435,140.76 L435.5,140.47 L436,140.18 L436.5,139.87 L437,139.56 L437.5,139.24 L438,138.91 L438.5,138.57 L439,138.22 L439.5,137.86 L440,137.49 L440.5,137.11 L441,136.73 L441.5,136.34 L442,135.94 L442.5,135.53 L443,135.12 L443.5,134.7 L444,134.28 L444.5,133.84 L445,133.41 L445.5,132.97 L446,132.52 L446.5,132.07 L447,131.62 L447.5,131.16 L448,130.7 L448.5,130.24 L449,129.77 L449.5,129.31 L450,128.84 L450.5,128.38 L451,127.91 L451.5,127.44 L452,126.98 L452.5,126.51 L453,126.05 L453.5,125.59 L454,125.13 L454.5,124.67 L455,124.22 L455.5,123.77 L456,123.32 L456.5,122.88 L457,122.44 L457.5,122 L458,121.57 L458.5,121.15 L459,120.73 L459.5,120.31 L460,119.9 L460.5,119.49 L461,119.09 L461.5,118.7 L462,118.31 L462.5,117.92 L463,117.55 L463.5,117.17 L464,116.81 L464.5,116.45 L465,116.09 L465.5,115.74 L466,115.4 L466.5,115.07 L467,114.73 L467.5,114.41 L468,114.09 L468.5,113.78 L469,113.47 L469.5,113.17 L470,112.87 L470.5,112.58 L471,112.3 L471.5,112.02 L472,111.74 L472.5,111.47 L473,111.21 L473.5,110.95 L474,110.7 L474.5,110.45 L475,110.21 L475.5,109.97 L476,109.74 L476.5,109.51 L477,109.28 L477.5,109.06 L478,108.85 L478.5,108.64 L479,108.43 L479.5,108.23 L480,108.03 L480.5,107.83 L481,107.64 L481.5,107.46 L482,107.27 L482.5,107.09 L483,106.92 L483.5,106.75 L484,106.58 L484.5,106.41 L485,106.25 L485.5,106.09 L486,105.94 L486.5,105.79 L487,105.64 L487.5,105.49 L488,105.35 L488.5,105.21 L489,105.07 L489.5,104.94 L490,104.8 L490.5,104.68 L491,104.55 L491.5,104.43 L492,104.3 L492.5,104.19 L493,104.07 L493.5,103.95 L494,103.84 L494.5,103.73 L495,103.63 L495.5,103.52 L496,103.42 L496.5,103.32 L497,103.22 L497.5,103.13 L498,103.03 L498.5,102.94 L499,102.85 L499.5,102.76 L500,102.68 L500.5,102.59 L501,102.51 L501.5,102.43 L502,102.35 L502.5,102.27 L503,102.2 L503.5,102.12 L504,102.05 L504.5,101.98 L505,101.91 L505.5,101.85 L506,101.78 L506.5,101.72 L507,101.66 L507.5,101.6 L508,101.54 L508.5,101.48 L509,101.42 L509.5,101.37 L510,101.32 L510.5,101.26 L511,101.21 L511.5,101.16 L512,101.12 L512.5,101.07 L513,101.03 L513.5,100.98 L514,100.94 L514.5,100.9 L515,100.86 L515.5,100.82 L516,100.78 L516.5,100.74 L517,100.71 L517.5,100.67 L518,100.64 L518.5,100.61 L519,100.58 L519.5,100.55 L520,100.52 L520.5,100.49 L521,100.46 L521.5,100.44 L522,100.41 L522.5,100.39 L523,100.36 L523.5,100.34 L524,100.32 L524.5,100.3 L525,100.28 L525.5,100.26 L526,100.24 L526.5,100.22 L527,100.2 L527.5,100.19 L528,100.17 L528.5,100.16 L529,100.14 L529.5,100.13 L530,100.12 L530.5,100.1 L531,100.09 L531.5,100.08 L532,100.07 L532.5,100.06 L533,100.05 L533.5,100.04 L534,100.03 L534.5,100.02 L535,100.01 L535.5,100 L536,100 L536.5,99.99 L537,99.98 L537.5,99.98 L538,99.97 L538.5,99.96 L539,99.96 L539.5,99.95 L540,99.95 L540.5,99.94 L541,99.94 L541.5,99.94 L542,99.93 L542.5,99.93 L543,99.93 L543.5,99.92 L544,99.92 L544.5,99.92 L545,99.91 L545.5,99.91 L546,99.91 L546.5,99.91 L547,99.9 L547.5,99.9 L548,99.9 L548.5,99.9 L549,99.9 L549.5,99.9 L550,99.9 L550.5,99.89 L551,99.89 L551.5,99.89 L552,99.89 L552.5,99.89 L553,99.89 L553.5,99.89 L554,99.89 L554.5,99.89 L555,99.89 L555.5,99.89 L556,99.89 L556.5,99.88 L557,99.88 L557.5,99.88 L558,99.88 L558.5,99.88 L559,99.88 L559.5,99.88 L560,99.88 L560.5,99.88 L561,99.88 L561.5,99.88 L562,99.88 L562.5,99.88 L563,99.88 L563.5,99.88 L564,99.88 L564.5,99.88 L565,99.88 L565.5,99.88 L566,99.88 L566.5,99.88 L567,99.88 L567.5,99.88 L568,99.88 L568.5,99.88 L569,99.88 L569.5,99.88 L570,99.88 L570.5,99.88 L571,99.88 L571.5,99.88 L572,99.88 L572.5,99.88 L573,99.88 L573.5,99.88 L574,99.88 L574.5,99.88 L575,99.88 L575.5,99.88 L576,99.88 L576.5,99.88 L577,99.88 L577.5,99.88 L578,99.88 L578.5,99.88 L579,99.88 L579.5,99.88 L580,99.88 L580.5,99.88 L581,99.88 L581.5,99.88 L582,99.88 L582.5,99.88 L583,99.88 L583.5,99.88 L584,99.88 L584.5,99.88 L585,99.88 L585.5,99.88 L586,99.88 L586.5,99.88 L587,99.88 L587.5,99.88 L588,99.88 L588.5,99.88 L589,99.88 L589.5,99.88 L590,99.88 L590.5,99.88 L591,99.88 L591.5,99.88 L592,99.88 L592.5,99.88 L593,99.88 L593.5,99.88 L594,99.88 L594.5,99.88 L595,99.88 L595.5,99.88 L596,99.88 L596.5,99.88 L597,99.88 L597.5,99.88 L598,99.88 L598.5,99.88 L599,99.88 L599.5,99.88 L600,99.88 L600.5,99.88 L601,99.88 L601.5,99.88 L602,99.88 L602.5,99.88 L603,99.88 L603.5,99.88 L604,99.88 L604.5,99.88 L605,99.88 L605.5,99.88 L606,99.88 L606.5,99.88 L607,99.88 L607.5,99.88 L608,99.88 L608.5,99.88 L609,99.88 L609.5,99.88 L610,99.88 L610.5,99.88 L611,99.88 L611.5,99.88 L612,99.88 L612.5,99.88 L613,99.88 L613.5,99.88 L614,99.88 L614.5,99.88 L615,99.88 L615.5,99.88 L616,99.88 L616.5,99.88 L617,99.88 L617.5,99.88 L618,99.88 L618.5,99.88 L619,99.88 L619.5,99.88 L620,99.88 L620.5,99.88 L621,99.88 L621.5,99.88 L622,99.88 L622.5,99.88 L623,99.88 L623.5,99.88 L624,99.88 L624.5,99.88 L625,99.88" fill="none" stroke="#dc4a54" stroke-width="1.2" stroke-linejoin="round"/>
<path d="M409.5,115.21 L410,115.21 L410.5,115.21 L411,115.21 L411.5,115.21 L412,115.21 L412.5,115.21 L413,115.21 L413.5,115.21 L414,115.21 L414.5,115.21 L415,115.21 L415.5,115.21 L416,115.21 L416.5,115.21 L417,115.21 L417.5,115.21 L418,115.21 L418.5,115.21 L419,115.21 L419.5,115.21 L420,115.21 L420.5,115.21 L421,115.21 L421.5,115.21 L422,115.21 L422.5,115.21 L423,115.21 L423.5,115.21 L424,115.21 L424.5,115.21 L425,115.21 L425.5,115.21 L426,115.21 L426.5,115.21 L427,115.21 L427.5,115.21 L428,115.21 L428.5,115.21 L429,115.21 L429.5,115.21 L430,115.21 L430.5,115.21 L431,115.2 L431.5,115.2 L432,115.2 L432.5,115.2 L433,115.2 L433.5,115.19 L434,115.19 L434.5,115.19 L435,115.18 L435.5,115.18 L436,115.17 L436.5,115.16 L437,115.16 L437.5,115.15 L438,115.14 L438.5,115.13 L439,115.11 L439.5,115.1 L440,115.08 L440.5,115.07 L441,115.05 L441.5,115.03 L442,115 L442.5,114.97 L443,114.94 L443.5,114.91 L444,114.88 L444.5,114.84 L445,114.8 L445.5,114.75 L446,114.7 L446.5,114.65 L447,114.59 L447.5,114.52 L448,114.46 L448.5,114.38 L449,114.31 L449.5,114.22 L450,114.14 L450.5,114.04 L451,113.95 L451.5,113.84 L452,113.73 L452.5,113.62 L453,113.5 L453.5,113.38 L454,113.25 L454.5,113.11 L455,112.97 L455.5,112.83 L456,112.68 L456.5,112.53 L457,112.38 L457.5,112.22 L458,112.05 L458.5,111.89 L459,111.72 L459.5,111.55 L460,111.38 L460.5,111.21 L461,111.03 L461.5,110.86 L462,110.68 L462.5,110.5 L463,110.33 L463.5,110.15 L464,109.97 L464.5,109.8 L465,109.63 L465.5,109.45 L466,109.28 L466.5,109.11 L467,108.95 L467.5,108.78 L468,108.62 L468.5,108.46 L469,108.3 L469.5,108.14 L470,107.99 L470.5,107.84 L471,107.69 L471.5,107.54 L472,107.4 L472.5,107.26 L473,107.12 L473.5,106.98 L474,106.85 L474.5,106.72 L475,106.59 L475.5,106.46 L476,106.34 L476.5,106.22 L477,106.1 L477.5,105.98 L478,105.87 L478.5,105.76 L479,105.65 L479.5,105.54 L480,105.43 L480.5,105.33 L481,105.22 L481.5,105.12 L482,105.02 L482.5,104.92 L483,104.83 L483.5,104.73 L484,104.64 L484.5,104.54 L485,104.45 L485.5,104.36 L486,104.27 L486.5,104.18 L487,104.09 L487.5,104.01 L488,103.92 L488.5,103.83 L489,103.75 L489.5,103.66 L490,103.58 L490.5,103.5 L491,103.42 L491.5,103.33 L492,103.25 L492.5,103.17 L493,103.09 L493.5,103.01 L494,102.93 L494.5,102.85 L495,102.77 L495.5,102.69 L496,102.62 L496.5,102.54 L497,102.46 L497.5,102.39 L498,102.31 L498.5,102.24 L499,102.16 L499.5,102.09 L500,102.02 L500.5,101.94 L501,101.87 L501.5,101.8 L502,101.73 L502.5,101.66 L503,101.59 L503.5,101.53 L504,101.46 L504.5,101.4 L505,101.33 L505.5,101.27 L506,101.21 L506.5,101.15 L507,101.09 L507.5,101.03 L508,100.98 L508.5,100.92 L509,100.87 L509.5,100.82 L510,100.77 L510.5,100.72 L511,100.67 L511.5,100.63 L512,100.59 L512.5,100.54 L513,100.5 L513.5,100.47 L514,100.43 L514.5,100.39 L515,100.36 L515.5,100.33 L516,100.3 L516.5,100.27 L517,100.24 L517.5,100.22 L518,100.19 L518.5,100.17 L519,100.15 L519.5,100.13 L520,100.11 L520.5,100.09 L521,100.07 L521.5,100.06 L522,100.04 L522.5,100.03 L523,100.02 L523.5,100.01 L524,100 L524.5,99.99 L525,99.98 L525.5,99.97 L526,99.96 L526.5,99.96 L527,99.95 L527.5,99.94 L528,99.94 L528.5,99.93 L529,99.93 L529.5,99.93 L530,99.92 L530.5,99.92 L531,99.92 L531.5,99.92 L532,99.91 L532.5,99.91 L533,99.91 L533.5,99.91 L534,99.91 L534.5,99.91 L535,99.91 L535.5,99.91 L536,99.9 L536.5,99.9 L537,99.9 L537.5,99.9 L538,99.9 L538.5,99.9 L539,99.9 L539.5,99.9 L540,99.9 L540.5,99.9 L541,99.9 L541.5,99.9 L542,99.9 L542.5,99.9 L543,99.9 L543.5,99.9 L544,99.9 L544.5,99.9 L545,99.9 L545.5,99.9 L546,99.9 L546.5,99.9 L547,99.9 L547.5,99.9 L548,99.9 L548.5,99.9 L549,99.9 L549.5,99.9 L550,99.9 L550.5,99.9 L551,99.9 L551.5,99.9 L552,99.9 L552.5,99.9 L553,99.9 L553.5,99.9 L554,99.9 L554.5,99.9 L555,99.9 L555.5,99.9 L556,99.9 L556.5,99.9 L557,99.9 L557.5,99.9 L558,99.9 L558.5,99.9 L559,99.9 L559.5,99.9 L560,99.9 L560.5,99.9 L561,99.9 L561.5,99.9 L562,99.9 L562.5,99.9 L563,99.9 L563.5,99.9 L564,99.9 L564.5,99.9 L565,99.9 L565.5,99.9 L566,99.9 L566.5,99.9 L567,99.9 L567.5,99.9 L568,99.9 L568.5,99.9 L569,99.9 L569.5,99.9 L570,99.9 L570.5,99.9 L571,99.9 L571.5,99.9 L572,99.9 L572.5,99.9 L573,99.9 L573.5,99.9 L574,99.9 L574.5,99.9 L575,99.9 L575.5,99.9 L576,99.9 L576.5,99.9 L577,99.9 L577.5,99.9 L578,99.9 L578.5,99.9 L579,99.9 L579.5,99.9 L580,99.9 L580.5,99.9 L581,99.9 L581.5,99.9 L582,99.9 L582.5,99.9 L583,99.9 L583.5,99.9 L584,99.9 L584.5,99.9 L585,99.9 L585.5,99.9 L586,99.9 L586.5,99.9 L587,99.9 L587.5,99.9 L588,99.9 L588.5,99.9 L589,99.9 L589.5,99.9 L590,99.9 L590.5,99.9 L591,99.9 L591.5,99.9 L592,99.9 L592.5,99.9 L593,99.9 L593.5,99.9 L594,99.9 L594.5,99.9 L595,99.9 L595.5,99.9 L596,99.9 L596.5,99.9 L597,99.9 L597.5,99.9 L598,99.9 L598.5,99.9 L599,99.9 L599.5,99.9 L600,99.9 L600.5,99.9 L601,99.9 L601.5,99.9 L602,99.9 L602.5,99.9 L603,99.9 L603.5,99.9 L604,99.9 L604.5,99.9 L605,99.9 L605.5,99.9 L606,99.9 L606.5,99.9 L607,99.9 L607.5,99.9 L608,99.9 L608.5,99.9 L609,99.9 L609.5,99.9 L610,99.9 L610.5,99.9 L611,99.9 L611.5,99.9 L612,99.9 L612.5,99.9 L613,99.9 L613.5,99.9 L614,99.9 L614.5,99.9 L615,99.9 L615.5,99.9 L616,99.9 L616.5,99.9 L617,99.9 L617.5,99.9 L618,99.9 L618.5,99.9 L619,99.9 L619.5,99.9 L620,99.9 L620.5,99.9 L621,99.9 L621.5,99.9 L622,99.9 L622.5,99.9 L623,99.9 L623.5,99.9 L624,99.9 L624.5,99.9 L625,99.9" fill="none" stroke="#4a8ed0" stroke-width="1.2" stroke-linejoin="round"/>
<path d="M409.5,93.24 L410,93.24 L410.5,93.24 L411,93.24 L411.5,93.24 L412,93.24 L412.5,93.24 L413,93.24 L413.5,93.24 L414,93.24 L414.5,93.24 L415,93.24 L415.5,93.24 L416,93.24 L416.5,93.24 L417,93.24 L417.5,93.24 L418,93.24 L418.5,93.24 L419,93.24 L419.5,93.24 L420,93.24 L420.5,93.24 L421,93.24 L421.5,93.24 L422,93.24 L422.5,93.24 L423,93.24 L423.5,93.24 L424,93.24 L424.5,93.24 L425,93.24 L425.5,93.24 L426,93.24 L426.5,93.24 L427,93.25 L427.5,93.25 L428,93.25 L428.5,93.25 L429,93.25 L429.5,93.25 L430,93.25 L430.5,93.26 L431,93.26 L431.5,93.26 L432,93.26 L432.5,93.26 L433,93.27 L433.5,93.27 L434,93.27 L434.5,93.28 L435,93.28 L435.5,93.29 L436,93.29 L436.5,93.3 L437,93.3 L437.5,93.31 L438,93.31 L438.5,93.32 L439,93.33 L439.5,93.34 L440,93.35 L440.5,93.36 L441,93.37 L441.5,93.38 L442,93.39 L442.5,93.4 L443,93.41 L443.5,93.43 L444,93.44 L444.5,93.45 L445,93.47 L445.5,93.49 L446,93.51 L446.5,93.52 L447,93.54 L447.5,93.56 L448,93.59 L448.5,93.61 L449,93.63 L449.5,93.66 L450,93.68 L450.5,93.71 L451,93.74 L451.5,93.77 L452,93.8 L452.5,93.83 L453,93.86 L453.5,93.9 L454,93.93 L454.5,93.97 L455,94.01 L455.5,94.05 L456,94.09 L456.5,94.13 L457,94.17 L457.5,94.21 L458,94.26 L458.5,94.3 L459,94.35 L459.5,94.39 L460,94.44 L460.5,94.49 L461,94.54 L461.5,94.59 L462,94.64 L462.5,94.7 L463,94.75 L463.5,94.8 L464,94.86 L464.5,94.91 L465,94.97 L465.5,95.03 L466,95.08 L466.5,95.14 L467,95.2 L467.5,95.26 L468,95.32 L468.5,95.38 L469,95.44 L469.5,95.5 L470,95.56 L470.5,95.62 L471,95.68 L471.5,95.74 L472,95.8 L472.5,95.87 L473,95.93 L473.5,95.99 L474,96.05 L474.5,96.11 L475,96.17 L475.5,96.24 L476,96.3 L476.5,96.36 L477,96.42 L477.5,96.48 L478,96.54 L478.5,96.6 L479,96.66 L479.5,96.73 L480,96.79 L480.5,96.85 L481,96.91 L481.5,96.97 L482,97.02 L482.5,97.08 L483,97.14 L483.5,97.2 L484,97.26 L484.5,97.32 L485,97.37 L485.5,97.43 L486,97.49 L486.5,97.54 L487,97.6 L487.5,97.65 L488,97.71 L488.5,97.76 L489,97.82 L489.5,97.87 L490,97.92 L490.5,97.97 L491,98.02 L491.5,98.08 L492,98.13 L492.5,98.18 L493,98.22 L493.5,98.27 L494,98.32 L494.5,98.37 L495,98.41 L495.5,98.46 L496,98.5 L496.5,98.55 L497,98.59 L497.5,98.63 L498,98.68 L498.5,98.72 L499,98.76 L499.5,98.8 L500,98.84 L500.5,98.87 L501,98.91 L501.5,98.95 L502,98.98 L502.5,99.02 L503,99.05 L503.5,99.08 L504,99.11 L504.5,99.14 L505,99.17 L505.5,99.2 L506,99.23 L506.5,99.26 L507,99.29 L507.5,99.31 L508,99.34 L508.5,99.36 L509,99.38 L509.5,99.41 L510,99.43 L510.5,99.45 L511,99.47 L511.5,99.49 L512,99.5 L512.5,99.52 L513,99.54 L513.5,99.55 L514,99.57 L514.5,99.58 L515,99.6 L515.5,99.61 L516,99.62 L516.5,99.63 L517,99.65 L517.5,99.66 L518,99.67 L518.5,99.68 L519,99.68 L519.5,99.69 L520,99.7 L520.5,99.71 L521,99.72 L521.5,99.72 L522,99.73 L522.5,99.73 L523,99.74 L523.5,99.74 L524,99.75 L524.5,99.75 L525,99.76 L525.5,99.76 L526,99.76 L526.5,99.77 L527,99.77 L527.5,99.77 L528,99.78 L528.5,99.78 L529,99.78 L529.5,99.78 L530,99.78 L530.5,99.79 L531,99.79 L531.5,99.79 L532,99.79 L532.5,99.79 L533,99.79 L533.5,99.79 L534,99.79 L534.5,99.79 L535,99.79 L535.5,99.8 L536,99.8 L536.5,99.8 L537,99.8 L537.5,99.8 L538,99.8 L538.5,99.8 L539,99.8 L539.5,99.8 L540,99.8 L540.5,99.8 L541,99.8 L541.5,99.8 L542,99.8 L542.5,99.8 L543,99.8 L543.5,99.8 L544,99.8 L544.5,99.8 L545,99.8 L545.5,99.8 L546,99.8 L546.5,99.8 L547,99.8 L547.5,99.8 L548,99.8 L548.5,99.8 L549,99.8 L549.5,99.8 L550,99.8 L550.5,99.8 L551,99.8 L551.5,99.8 L552,99.8 L552.5,99.8 L553,99.8 L553.5,99.8 L554,99.8 L554.5,99.8 L555,99.8 L555.5,99.8 L556,99.8 L556.5,99.8 L557,99.8 L557.5,99.8 L558,99.8 L558.5,99.8 L559,99.8 L559.5,99.8 L560,99.8 L560.5,99.8 L561,99.8 L561.5,99.8 L562,99.8 L562.5,99.8 L563,99.8 L563.5,99.8 L564,99.8 L564.5,99.8 L565,99.8 L565.5,99.8 L566,99.8 L566.5,99.8 L567,99.8 L567.5,99.8 L568,99.8 L568.5,99.8 L569,99.8 L569.5,99.8 L570,99.8 L570.5,99.8 L571,99.8 L571.5,99.8 L572,99.8 L572.5,99.8 L573,99.8 L573.5,99.8 L574,99.8 L574.5,99.8 L575,99.8 L575.5,99.8 L576,99.8 L576.5,99.8 L577,99.8 L577.5,99.8 L578,99.8 L578.5,99.8 L579,99.8 L579.5,99.8 L580,99.8 L580.5,99.8 L581,99.8 L581.5,99.8 L582,99.8 L582.5,99.8 L583,99.8 L583.5,99.8 L584,99.8 L584.5,99.8 L585,99.8 L585.5,99.8 L586,99.8 L586.5,99.8 L587,99.8 L587.5,99.8 L588,99.8 L588.5,99.8 L589,99.8 L589.5,99.8 L590,99.8 L590.5,99.8 L591,99.8 L591.5,99.8 L592,99.8 L592.5,99.8 L593,99.8 L593.5,99.8 L594,99.8 L594.5,99.8 L595,99.8 L595.5,99.8 L596,99.8 L596.5,99.8 L597,99.8 L597.5,99.8 L598,99.8 L598.5,99.8 L599,99.8 L599.5,99.8 L600,99.8 L600.5,99.8 L601,99.8 L601.5,99.8 L602,99.8 L602.5,99.8 L603,99.8 L603.5,99.8 L604,99.8 L604.5,99.8 L605,99.8 L605.5,99.8 L606,99.8 L606.5,99.8 L607,99.8 L607.5,99.8 L608,99.8 L608.5,99.8 L609,99.8 L609.5,99.8 L610,99.8 L610.5,99.8 L611,99.8 L611.5,99.8 L612,99.8 L612.5,99.8 L613,99.8 L613.5,99.8 L614,99.8 L614.5,99.8 L615,99.8 L615.5,99.8 L616,99.8 L616.5,99.8 L617,99.8 L617.5,99.8 L618,99.8 L618.5,99.8 L619,99.8 L619.5,99.8 L620,99.8 L620.5,99.8 L621,99.8 L621.5,99.8 L622,99.8 L622.5,99.8 L623,99.8 L623.5,99.8 L624,99.8 L624.5,99.8 L625,99.8" fill="none" stroke="#5fb85a" stroke-width="1.2" stroke-linejoin="round"/>
<path d="M409.5,79.63 L410,79.63 L410.5,79.63 L411,79.63 L411.5,79.63 L412,79.63 L412.5,79.63 L413,79.63 L413.5,79.63 L414,79.63 L414.5,79.63 L415,79.63 L415.5,79.63 L416,79.63 L416.5,79.63 L417,79.64 L417.5,79.64 L418,79.64 L418.5,79.64 L419,79.64 L419.5,79.64 L420,79.64 L420.5,79.65 L421,79.65 L421.5,79.65 L422,79.65 L422.5,79.65 L423,79.66 L423.5,79.66 L424,79.66 L424.5,79.67 L425,79.67 L425.5,79.67 L426,79.68 L426.5,79.68 L427,79.69 L427.5,79.69 L428,79.7 L428.5,79.7 L429,79.71 L429.5,79.72 L430,79.72 L430.5,79.73 L431,79.74 L431.5,79.75 L432,79.76 L432.5,79.77 L433,79.78 L433.5,79.79 L434,79.8 L434.5,79.81 L435,79.83 L435.5,79.84 L436,79.86 L436.5,79.87 L437,79.89 L437.5,79.91 L438,79.93 L438.5,79.95 L439,79.97 L439.5,79.99 L440,80.01 L440.5,80.04 L441,80.06 L441.5,80.09 L442,80.12 L442.5,80.15 L443,80.18 L443.5,80.21 L444,80.25 L444.5,80.28 L445,80.32 L445.5,80.36 L446,80.4 L446.5,80.45 L447,80.49 L447.5,80.54 L448,80.59 L448.5,80.64 L449,80.69 L449.5,80.75 L450,80.8 L450.5,80.86 L451,80.92 L451.5,80.99 L452,81.06 L452.5,81.12 L453,81.19 L453.5,81.27 L454,81.34 L454.5,81.42 L455,81.5 L455.5,81.59 L456,81.67 L456.5,81.76 L457,81.85 L457.5,81.95 L458,82.04 L458.5,82.14 L459,82.24 L459.5,82.35 L460,82.45 L460.5,82.56 L461,82.67 L461.5,82.79 L462,82.9 L462.5,83.02 L463,83.15 L463.5,83.27 L464,83.4 L464.5,83.52 L465,83.66 L465.5,83.79 L466,83.93 L466.5,84.06 L467,84.2 L467.5,84.35 L468,84.49 L468.5,84.64 L469,84.78 L469.5,84.93 L470,85.09 L470.5,85.24 L471,85.39 L471.5,85.55 L472,85.71 L472.5,85.87 L473,86.03 L473.5,86.19 L474,86.35 L474.5,86.52 L475,86.68 L475.5,86.85 L476,87.01 L476.5,87.18 L477,87.35 L477.5,87.52 L478,87.69 L478.5,87.86 L479,88.03 L479.5,88.2 L480,88.37 L480.5,88.54 L481,88.71 L481.5,88.88 L482,89.05 L482.5,89.22 L483,89.39 L483.5,89.56 L484,89.73 L484.5,89.9 L485,90.07 L485.5,90.24 L486,90.4 L486.5,90.57 L487,90.74 L487.5,90.9 L488,91.07 L488.5,91.23 L489,91.39 L489.5,91.55 L490,91.71 L490.5,91.87 L491,92.03 L491.5,92.18 L492,92.34 L492.5,92.49 L493,92.64 L493.5,92.79 L494,92.94 L494.5,93.09 L495,93.24 L495.5,93.38 L496,93.53 L496.5,93.67 L497,93.81 L497.5,93.94 L498,94.08 L498.5,94.22 L499,94.35 L499.5,94.48 L500,94.61 L500.5,94.74 L501,94.86 L501.5,94.99 L502,95.11 L502.5,95.23 L503,95.35 L503.5,95.47 L504,95.58 L504.5,95.7 L505,95.81 L505.5,95.92 L506,96.03 L506.5,96.13 L507,96.24 L507.5,96.34 L508,96.44 L508.5,96.54 L509,96.63 L509.5,96.73 L510,96.82 L510.5,96.91 L511,97 L511.5,97.09 L512,97.17 L512.5,97.26 L513,97.34 L513.5,97.42 L514,97.5 L514.5,97.57 L515,97.65 L515.5,97.72 L516,97.79 L516.5,97.86 L517,97.93 L517.5,97.99 L518,98.06 L518.5,98.12 L519,98.18 L519.5,98.24 L520,98.3 L520.5,98.35 L521,98.41 L521.5,98.46 L522,98.51 L522.5,98.56 L523,98.61 L523.5,98.66 L524,98.7 L524.5,98.74 L525,98.79 L525.5,98.83 L526,98.87 L526.5,98.91 L527,98.94 L527.5,98.98 L528,99.02 L528.5,99.05 L529,99.08 L529.5,99.11 L530,99.14 L530.5,99.17 L531,99.2 L531.5,99.23 L532,99.25 L532.5,99.28 L533,99.3 L533.5,99.32 L534,99.35 L534.5,99.37 L535,99.39 L535.5,99.41 L536,99.43 L536.5,99.44 L537,99.46 L537.5,99.48 L538,99.49 L538.5,99.51 L539,99.52 L539.5,99.53 L540,99.55 L540.5,99.56 L541,99.57 L541.5,99.58 L542,99.59 L542.5,99.6 L543,99.61 L543.5,99.62 L544,99.63 L544.5,99.64 L545,99.65 L545.5,99.65 L546,99.66 L546.5,99.67 L547,99.67 L547.5,99.68 L548,99.69 L548.5,99.69 L549,99.7 L549.5,99.7 L550,99.7 L550.5,99.71 L551,99.71 L551.5,99.72 L552,99.72 L552.5,99.72 L553,99.73 L553.5,99.73 L554,99.73 L554.5,99.73 L555,99.74 L555.5,99.74 L556,99.74 L556.5,99.74 L557,99.74 L557.5,99.75 L558,99.75 L558.5,99.75 L559,99.75 L559.5,99.75 L560,99.75 L560.5,99.75 L561,99.75 L561.5,99.75 L562,99.76 L562.5,99.76 L563,99.76 L563.5,99.76 L564,99.76 L564.5,99.76 L565,99.76 L565.5,99.76 L566,99.76 L566.5,99.76 L567,99.76 L567.5,99.76 L568,99.76 L568.5,99.76 L569,99.76 L569.5,99.76 L570,99.76 L570.5,99.76 L571,99.76 L571.5,99.76 L572,99.76 L572.5,99.76 L573,99.76 L573.5,99.76 L574,99.76 L574.5,99.76 L575,99.76 L575.5,99.76 L576,99.76 L576.5,99.76 L577,99.76 L577.5,99.76 L578,99.76 L578.5,99.76 L579,99.76 L579.5,99.76 L580,99.76 L580.5,99.76 L581,99.76 L581.5,99.76 L582,99.76 L582.5,99.76 L583,99.76 L583.5,99.76 L584,99.76 L584.5,99.76 L585,99.76 L585.5,99.76 L586,99.76 L586.5,99.76 L587,99.76 L587.5,99.76 L588,99.76 L588.5,99.76 L589,99.76 L589.5,99.76 L590,99.76 L590.5,99.76 L591,99.76 L591.5,99.76 L592,99.76 L592.5,99.76 L593,99.76 L593.5,99.76 L594,99.76 L594.5,99.76 L595,99.76 L595.5,99.76 L596,99.76 L596.5,99.76 L597,99.76 L597.5,99.76 L598,99.76 L598.5,99.76 L599,99.76 L599.5,99.76 L600,99.76 L600.5,99.76 L601,99.76 L601.5,99.76 L602,99.76 L602.5,99.76 L603,99.76 L603.5,99.76 L604,99.76 L604.5,99.76 L605,99.76 L605.5,99.76 L606,99.76 L606.5,99.76 L607,99.76 L607.5,99.76 L608,99.76 L608.5,99.76 L609,99.76 L609.5,99.76 L610,99.76 L610.5,99.76 L611,99.76 L611.5,99.76 L612,99.76 L612.5,99.76 L613,99.76 L613.5,99.76 L614,99.76 L614.5,99.76 L615,99.76 L615.5,99.76 L616,99.76 L616.5,99.76 L617,99.76 L617.5,99.76 L618,99.76 L618.5,99.76 L619,99.76 L619.5,99.76 L620,99.76 L620.5,99.76 L621,99.76 L621.5,99.76 L622,99.76 L622.5,99.76 L623,99.76 L623.5,99.76 L624,99.76 L624.5,99.76 L625,99.76" fill="none" stroke="#bc68d2" stroke-width="1.2" stroke-linejoin="round"/>
<path d="M409.5,55.57 L410,55.55 L410.5,55.53 L411,55.51 L411.5,55.49 L412,55.47 L412.5,55.46 L413,55.44 L413.5,55.43 L414,55.42 L414.5,55.41 L415,55.4 L415.5,55.39 L416,55.39 L416.5,55.38 L417,55.38 L417.5,55.38 L418,55.38 L418.5,55.38 L419,55.38 L419.5,55.38 L420,55.39 L420.5,55.4 L421,55.41 L421.5,55.42 L422,55.43 L422.5,55.44 L423,55.45 L423.5,55.47 L424,55.49 L424.5,55.51 L425,55.53 L425.5,55.55 L426,55.57 L426.5,55.6 L427,55.62 L427.5,55.65 L428,55.68 L428.5,55.71 L429,55.75 L429.5,55.78 L430,55.82 L430.5,55.86 L431,55.9 L431.5,55.94 L432,55.98 L432.5,56.03 L433,56.08 L433.5,56.12 L434,56.18 L434.5,56.23 L435,56.28 L435.5,56.34 L436,56.39 L436.5,56.45 L437,56.51 L437.5,56.58 L438,56.64 L438.5,56.71 L439,56.78 L439.5,56.85 L440,56.92 L440.5,56.99 L441,57.07 L441.5,57.15 L442,57.22 L442.5,57.31 L443,57.39 L443.5,57.47 L444,57.56 L444.5,57.65 L445,57.74 L445.5,57.83 L446,57.93 L446.5,58.02 L447,58.12 L447.5,58.22 L448,58.33 L448.5,58.43 L449,58.54 L449.5,58.64 L450,58.76 L450.5,58.87 L451,58.98 L451.5,59.1 L452,59.22 L452.5,59.34 L453,59.46 L453.5,59.58 L454,59.71 L454.5,59.84 L455,59.97 L455.5,60.1 L456,60.24 L456.5,60.37 L457,60.51 L457.5,60.65 L458,60.79 L458.5,60.94 L459,61.09 L459.5,61.23 L460,61.39 L460.5,61.54 L461,61.69 L461.5,61.85 L462,62.01 L462.5,62.17 L463,62.33 L463.5,62.5 L464,62.66 L464.5,62.83 L465,63 L465.5,63.18 L466,63.35 L466.5,63.53 L467,63.71 L467.5,63.89 L468,64.07 L468.5,64.26 L469,64.45 L469.5,64.63 L470,64.82 L470.5,65.02 L471,65.21 L471.5,65.41 L472,65.61 L472.5,65.81 L473,66.01 L473.5,66.21 L474,66.42 L474.5,66.63 L475,66.84 L475.5,67.05 L476,67.26 L476.5,67.47 L477,67.69 L477.5,67.91 L478,68.13 L478.5,68.35 L479,68.57 L479.5,68.8 L480,69.02 L480.5,69.25 L481,69.48 L481.5,69.71 L482,69.94 L482.5,70.18 L483,70.41 L483.5,70.65 L484,70.89 L484.5,71.12 L485,71.36 L485.5,71.61 L486,71.85 L486.5,72.09 L487,72.34 L487.5,72.58 L488,72.83 L488.5,73.08 L489,73.33 L489.5,73.58 L490,73.83 L490.5,74.08 L491,74.33 L491.5,74.59 L492,74.84 L492.5,75.1 L493,75.35 L493.5,75.61 L494,75.86 L494.5,76.12 L495,76.38 L495.5,76.64 L496,76.89 L496.5,77.15 L497,77.41 L497.5,77.67 L498,77.93 L498.5,78.19 L499,78.45 L499.5,78.71 L500,78.97 L500.5,79.22 L501,79.48 L501.5,79.74 L502,80 L502.5,80.26 L503,80.52 L503.5,80.77 L504,81.03 L504.5,81.29 L505,81.54 L505.5,81.8 L506,82.05 L506.5,82.31 L507,82.56 L507.5,82.81 L508,83.06 L508.5,83.31 L509,83.56 L509.5,83.81 L510,84.05 L510.5,84.3 L511,84.54 L511.5,84.79 L512,85.03 L512.5,85.27 L513,85.51 L513.5,85.75 L514,85.98 L514.5,86.22 L515,86.45 L515.5,86.68 L516,86.91 L516.5,87.14 L517,87.37 L517.5,87.59 L518,87.81 L518.5,88.03 L519,88.25 L519.5,88.47 L520,88.68 L520.5,88.9 L521,89.11 L521.5,89.32 L522,89.52 L522.5,89.73 L523,89.93 L523.5,90.13 L524,90.33 L524.5,90.52 L525,90.72 L525.5,90.91 L526,91.1 L526.5,91.28 L527,91.47 L527.5,91.65 L528,91.83 L528.5,92.01 L529,92.18 L529.5,92.35 L530,92.52 L530.5,92.69 L531,92.86 L531.5,93.02 L532,93.18 L532.5,93.34 L533,93.49 L533.5,93.64 L534,93.79 L534.5,93.94 L535,94.09 L535.5,94.23 L536,94.37 L536.5,94.51 L537,94.65 L537.5,94.78 L538,94.91 L538.5,95.04 L539,95.17 L539.5,95.29 L540,95.41 L540.5,95.53 L541,95.65 L541.5,95.77 L542,95.88 L542.5,95.99 L543,96.1 L543.5,96.2 L544,96.31 L544.5,96.41 L545,96.51 L545.5,96.6 L546,96.7 L546.5,96.79 L547,96.88 L547.5,96.97 L548,97.06 L548.5,97.15 L549,97.23 L549.5,97.31 L550,97.39 L550.5,97.47 L551,97.54 L551.5,97.62 L552,97.69 L552.5,97.76 L553,97.83 L553.5,97.89 L554,97.96 L554.5,98.02 L555,98.08 L555.5,98.14 L556,98.2 L556.5,98.26 L557,98.31 L557.5,98.37 L558,98.42 L558.5,98.47 L559,98.52 L559.5,98.57 L560,98.62 L560.5,98.66 L561,98.71 L561.5,98.75 L562,98.79 L562.5,98.83 L563,98.87 L563.5,98.91 L564,98.95 L564.5,98.98 L565,99.02 L565.5,99.05 L566,99.08 L566.5,99.12 L567,99.15 L567.5,99.18 L568,99.21 L568.5,99.23 L569,99.26 L569.5,99.29 L570,99.31 L570.5,99.34 L571,99.36 L571.5,99.38 L572,99.41 L572.5,99.43 L573,99.45 L573.5,99.47 L574,99.49 L574.5,99.51 L575,99.52 L575.5,99.54 L576,99.56 L576.5,99.57 L577,99.59 L577.5,99.6 L578,99.62 L578.5,99.63 L579,99.65 L579.5,99.66 L580,99.67 L580.5,99.68 L581,99.7 L581.5,99.71 L582,99.72 L582.5,99.73 L583,99.74 L583.5,99.75 L584,99.76 L584.5,99.77 L585,99.77 L585.5,99.78 L586,99.79 L586.5,99.8 L587,99.8 L587.5,99.81 L588,99.82 L588.5,99.82 L589,99.83 L589.5,99.84 L590,99.84 L590.5,99.85 L591,99.85 L591.5,99.86 L592,99.86 L592.5,99.87 L593,99.87 L593.5,99.88 L594,99.88 L594.5,99.88 L595,99.89 L595.5,99.89 L596,99.89 L596.5,99.9 L597,99.9 L597.5,99.9 L598,99.91 L598.5,99.91 L599,99.91 L599.5,99.91 L600,99.92 L600.5,99.92 L601,99.92 L601.5,99.92 L602,99.92 L602.5,99.93 L603,99.93 L603.5,99.93 L604,99.93 L604.5,99.93 L605,99.93 L605.5,99.94 L606,99.94 L606.5,99.94 L607,99.94 L607.5,99.94 L608,99.94 L608.5,99.94 L609,99.94 L609.5,99.94 L610,99.95 L610.5,99.95 L611,99.95 L611.5,99.95 L612,99.95 L612.5,99.95 L613,99.95 L613.5,99.95 L614,99.95 L614.5,99.95 L615,99.95 L615.5,99.95 L616,99.95 L616.5,99.95 L617,99.95 L617.5,99.95 L618,99.95 L618.5,99.95 L619,99.96 L619.5,99.96 L620,99.96 L620.5,99.96 L621,99.96 L621.5,99.96 L622,99.96 L622.5,99.96 L623,99.96 L623.5,99.96 L624,99.96 L624.5,99.96 L625,99.96" fill="none" stroke="#f2b83a" stroke-width="1.2" stroke-linejoin="round"/>
<path d="M409.5,33.48 L410,33.44 L410.5,33.4 L411,33.35 L411.5,33.31 L412,33.28 L412.5,33.24 L413,33.21 L413.5,33.18 L414,33.15 L414.5,33.13 L415,33.1 L415.5,33.08 L416,33.06 L416.5,33.05 L417,33.03 L417.5,33.02 L418,33.01 L418.5,33 L419,33 L419.5,33 L420,33 L420.5,33 L421,33.01 L421.5,33.02 L422,33.03 L422.5,33.04 L423,33.06 L423.5,33.07 L424,33.09 L424.5,33.12 L425,33.14 L425.5,33.17 L426,33.2 L426.5,33.24 L427,33.27 L427.5,33.31 L428,33.36 L428.5,33.4 L429,33.45 L429.5,33.5 L430,33.55 L430.5,33.6 L431,33.66 L431.5,33.72 L432,33.79 L432.5,33.85 L433,33.92 L433.5,33.99 L434,34.07 L434.5,34.14 L435,34.22 L435.5,34.31 L436,34.39 L436.5,34.48 L437,34.57 L437.5,34.66 L438,34.76 L438.5,34.86 L439,34.96 L439.5,35.07 L440,35.17 L440.5,35.28 L441,35.4 L441.5,35.51 L442,35.63 L442.5,35.75 L443,35.88 L443.5,36 L444,36.13 L444.5,36.27 L445,36.4 L445.5,36.54 L446,36.68 L446.5,36.82 L447,36.97 L447.5,37.12 L448,37.27 L448.5,37.43 L449,37.58 L449.5,37.75 L450,37.91 L450.5,38.07 L451,38.24 L451.5,38.41 L452,38.59 L452.5,38.76 L453,38.94 L453.5,39.13 L454,39.31 L454.5,39.5 L455,39.69 L455.5,39.88 L456,40.08 L456.5,40.27 L457,40.47 L457.5,40.68 L458,40.88 L458.5,41.09 L459,41.3 L459.5,41.52 L460,41.73 L460.5,41.95 L461,42.17 L461.5,42.4 L462,42.62 L462.5,42.85 L463,43.08 L463.5,43.31 L464,43.55 L464.5,43.79 L465,44.03 L465.5,44.27 L466,44.51 L466.5,44.76 L467,45.01 L467.5,45.26 L468,45.52 L468.5,45.77 L469,46.03 L469.5,46.29 L470,46.55 L470.5,46.82 L471,47.09 L471.5,47.35 L472,47.62 L472.5,47.9 L473,48.17 L473.5,48.45 L474,48.73 L474.5,49.01 L475,49.29 L475.5,49.57 L476,49.86 L476.5,50.15 L477,50.44 L477.5,50.73 L478,51.02 L478.5,51.31 L479,51.61 L479.5,51.91 L480,52.21 L480.5,52.51 L481,52.81 L481.5,53.11 L482,53.42 L482.5,53.72 L483,54.03 L483.5,54.34 L484,54.65 L484.5,54.96 L485,55.27 L485.5,55.58 L486,55.9 L486.5,56.21 L487,56.53 L487.5,56.85 L488,57.17 L488.5,57.49 L489,57.81 L489.5,58.13 L490,58.45 L490.5,58.77 L491,59.1 L491.5,59.42 L492,59.74 L492.5,60.07 L493,60.39 L493.5,60.72 L494,61.05 L494.5,61.37 L495,61.7 L495.5,62.03 L496,62.36 L496.5,62.68 L497,63.01 L497.5,63.34 L498,63.67 L498.5,64 L499,64.33 L499.5,64.66 L500,64.99 L500.5,65.31 L501,65.64 L501.5,65.97 L502,66.3 L502.5,66.63 L503,66.95 L503.5,67.28 L504,67.61 L504.5,67.93 L505,68.26 L505.5,68.59 L506,68.91 L506.5,69.24 L507,69.56 L507.5,69.88 L508,70.2 L508.5,70.53 L509,70.85 L509.5,71.17 L510,71.49 L510.5,71.8 L511,72.12 L511.5,72.44 L512,72.75 L512.5,73.07 L513,73.38 L513.5,73.69 L514,74 L514.5,74.31 L515,74.62 L515.5,74.93 L516,75.23 L516.5,75.54 L517,75.84 L517.5,76.14 L518,76.44 L518.5,76.74 L519,77.04 L519.5,77.33 L520,77.63 L520.5,77.92 L521,78.21 L521.5,78.5 L522,78.79 L522.5,79.07 L523,79.36 L523.5,79.64 L524,79.92 L524.5,80.2 L525,80.47 L525.5,80.75 L526,81.02 L526.5,81.29 L527,81.56 L527.5,81.83 L528,82.09 L528.5,82.36 L529,82.62 L529.5,82.88 L530,83.14 L530.5,83.39 L531,83.64 L531.5,83.89 L532,84.14 L532.5,84.39 L533,84.63 L533.5,84.88 L534,85.12 L534.5,85.35 L535,85.59 L535.5,85.82 L536,86.06 L536.5,86.28 L537,86.51 L537.5,86.74 L538,86.96 L538.5,87.18 L539,87.4 L539.5,87.61 L540,87.82 L540.5,88.04 L541,88.24 L541.5,88.45 L542,88.65 L542.5,88.86 L543,89.06 L543.5,89.25 L544,89.45 L544.5,89.64 L545,89.83 L545.5,90.02 L546,90.2 L546.5,90.39 L547,90.57 L547.5,90.75 L548,90.92 L548.5,91.1 L549,91.27 L549.5,91.44 L550,91.61 L550.5,91.77 L551,91.93 L551.5,92.09 L552,92.25 L552.5,92.41 L553,92.56 L553.5,92.72 L554,92.87 L554.5,93.01 L555,93.16 L555.5,93.3 L556,93.44 L556.5,93.58 L557,93.72 L557.5,93.85 L558,93.99 L558.5,94.12 L559,94.24 L559.5,94.37 L560,94.5 L560.5,94.62 L561,94.74 L561.5,94.86 L562,94.97 L562.5,95.09 L563,95.2 L563.5,95.31 L564,95.42 L564.5,95.53 L565,95.63 L565.5,95.74 L566,95.84 L566.5,95.94 L567,96.03 L567.5,96.13 L568,96.22 L568.5,96.32 L569,96.41 L569.5,96.5 L570,96.58 L570.5,96.67 L571,96.75 L571.5,96.84 L572,96.92 L572.5,97 L573,97.08 L573.5,97.15 L574,97.23 L574.5,97.3 L575,97.37 L575.5,97.44 L576,97.51 L576.5,97.58 L577,97.65 L577.5,97.71 L578,97.77 L578.5,97.84 L579,97.9 L579.5,97.96 L580,98.01 L580.5,98.07 L581,98.13 L581.5,98.18 L582,98.23 L582.5,98.29 L583,98.34 L583.5,98.39 L584,98.44 L584.5,98.48 L585,98.53 L585.5,98.58 L586,98.62 L586.5,98.66 L587,98.71 L587.5,98.75 L588,98.79 L588.5,98.83 L589,98.87 L589.5,98.9 L590,98.94 L590.5,98.98 L591,99.01 L591.5,99.04 L592,99.08 L592.5,99.11 L593,99.14 L593.5,99.17 L594,99.2 L594.5,99.23 L595,99.26 L595.5,99.29 L596,99.31 L596.5,99.34 L597,99.37 L597.5,99.39 L598,99.42 L598.5,99.44 L599,99.46 L599.5,99.48 L600,99.51 L600.5,99.53 L601,99.55 L601.5,99.57 L602,99.59 L602.5,99.61 L603,99.62 L603.5,99.64 L604,99.66 L604.5,99.68 L605,99.69 L605.5,99.71 L606,99.72 L606.5,99.74 L607,99.75 L607.5,99.77 L608,99.78 L608.5,99.8 L609,99.81 L609.5,99.82 L610,99.83 L610.5,99.85 L611,99.86 L611.5,99.87 L612,99.88 L612.5,99.89 L613,99.9 L613.5,99.91 L614,99.92 L614.5,99.93 L615,99.94 L615.5,99.95 L616,99.95 L616.5,99.96 L617,99.97 L617.5,99.98 L618,99.98 L618.5,99.99 L619,100 L619.5,100.01 L620,100.01 L620.5,100.02 L621,100.02 L621.5,100.03 L622,100.04 L622.5,100.04 L623,100.05 L623.5,100.05 L624,100.06 L624.5,100.06 L625,100.07" fill="none" stroke="#bc7048" stroke-width="1.2" stroke-linejoin="round"/>
<path d="M409.5,22.3 L410,22.31 L410.5,22.32 L411,22.33 L411.5,22.34 L412,22.35 L412.5,22.36 L413,22.37 L413.5,22.39 L414,22.4 L414.5,22.42 L415,22.43 L415.5,22.45 L416,22.47 L416.5,22.48 L417,22.5 L417.5,22.52 L418,22.54 L418.5,22.56 L419,22.59 L419.5,22.61 L420,22.63 L420.5,22.66 L421,22.68 L421.5,22.71 L422,22.74 L422.5,22.77 L423,22.8 L423.5,22.84 L424,22.87 L424.5,22.9 L425,22.94 L425.5,22.98 L426,23.02 L426.5,23.06 L427,23.1 L427.5,23.15 L428,23.19 L428.5,23.24 L429,23.29 L429.5,23.34 L430,23.4 L430.5,23.45 L431,23.51 L431.5,23.57 L432,23.63 L432.5,23.69 L433,23.76 L433.5,23.82 L434,23.89 L434.5,23.97 L435,24.04 L435.5,24.12 L436,24.2 L436.5,24.28 L437,24.36 L437.5,24.45 L438,24.54 L438.5,24.63 L439,24.72 L439.5,24.82 L440,24.92 L440.5,25.02 L441,25.13 L441.5,25.24 L442,25.35 L442.5,25.46 L443,25.58 L443.5,25.7 L444,25.82 L444.5,25.95 L445,26.08 L445.5,26.21 L446,26.35 L446.5,26.49 L447,26.63 L447.5,26.78 L448,26.93 L448.5,27.08 L449,27.23 L449.5,27.39 L450,27.56 L450.5,27.72 L451,27.89 L451.5,28.06 L452,28.24 L452.5,28.42 L453,28.6 L453.5,28.79 L454,28.98 L454.5,29.17 L455,29.36 L455.5,29.56 L456,29.77 L456.5,29.97 L457,30.18 L457.5,30.4 L458,30.61 L458.5,30.83 L459,31.05 L459.5,31.28 L460,31.51 L460.5,31.74 L461,31.98 L461.5,32.22 L462,32.46 L462.5,32.71 L463,32.95 L463.5,33.21 L464,33.46 L464.5,33.72 L465,33.98 L465.5,34.24 L466,34.51 L466.5,34.78 L467,35.05 L467.5,35.32 L468,35.6 L468.5,35.88 L469,36.16 L469.5,36.44 L470,36.73 L470.5,37.02 L471,37.31 L471.5,37.61 L472,37.9 L472.5,38.2 L473,38.5 L473.5,38.81 L474,39.11 L474.5,39.42 L475,39.73 L475.5,40.04 L476,40.35 L476.5,40.66 L477,40.98 L477.5,41.29 L478,41.61 L478.5,41.93 L479,42.26 L479.5,42.58 L480,42.9 L480.5,43.23 L481,43.56 L481.5,43.88 L482,44.21 L482.5,44.54 L483,44.87 L483.5,45.21 L484,45.54 L484.5,45.87 L485,46.21 L485.5,46.55 L486,46.88 L486.5,47.22 L487,47.56 L487.5,47.89 L488,48.23 L488.5,48.57 L489,48.91 L489.5,49.25 L490,49.59 L490.5,49.93 L491,50.27 L491.5,50.62 L492,50.96 L492.5,51.3 L493,51.64 L493.5,51.98 L494,52.32 L494.5,52.67 L495,53.01 L495.5,53.35 L496,53.69 L496.5,54.03 L497,54.38 L497.5,54.72 L498,55.06 L498.5,55.4 L499,55.74 L499.5,56.08 L500,56.42 L500.5,56.76 L501,57.1 L501.5,57.44 L502,57.78 L502.5,58.12 L503,58.46 L503.5,58.8 L504,59.14 L504.5,59.47 L505,59.81 L505.5,60.15 L506,60.48 L506.5,60.82 L507,61.15 L507.5,61.49 L508,61.82 L508.5,62.16 L509,62.49 L509.5,62.82 L510,63.15 L510.5,63.48 L511,63.81 L511.5,64.14 L512,64.47 L512.5,64.8 L513,65.13 L513.5,65.46 L514,65.79 L514.5,66.11 L515,66.44 L515.5,66.76 L516,67.09 L516.5,67.41 L517,67.74 L517.5,68.06 L518,68.38 L518.5,68.7 L519,69.02 L519.5,69.34 L520,69.66 L520.5,69.98 L521,70.3 L521.5,70.61 L522,70.93 L522.5,71.24 L523,71.56 L523.5,71.87 L524,72.18 L524.5,72.5 L525,72.81 L525.5,73.12 L526,73.43 L526.5,73.73 L527,74.04 L527.5,74.35 L528,74.65 L528.5,74.96 L529,75.26 L529.5,75.56 L530,75.87 L530.5,76.17 L531,76.47 L531.5,76.76 L532,77.06 L532.5,77.36 L533,77.65 L533.5,77.95 L534,78.24 L534.5,78.53 L535,78.82 L535.5,79.11 L536,79.4 L536.5,79.69 L537,79.97 L537.5,80.26 L538,80.54 L538.5,80.82 L539,81.1 L539.5,81.38 L540,81.66 L540.5,81.93 L541,82.21 L541.5,82.48 L542,82.75 L542.5,83.02 L543,83.29 L543.5,83.56 L544,83.82 L544.5,84.08 L545,84.34 L545.5,84.6 L546,84.86 L546.5,85.12 L547,85.37 L547.5,85.63 L548,85.88 L548.5,86.12 L549,86.37 L549.5,86.62 L550,86.86 L550.5,87.1 L551,87.34 L551.5,87.57 L552,87.81 L552.5,88.04 L553,88.27 L553.5,88.5 L554,88.73 L554.5,88.95 L555,89.17 L555.5,89.39 L556,89.61 L556.5,89.82 L557,90.03 L557.5,90.24 L558,90.45 L558.5,90.65 L559,90.86 L559.5,91.06 L560,91.25 L560.5,91.45 L561,91.64 L561.5,91.83 L562,92.02 L562.5,92.2 L563,92.39 L563.5,92.57 L564,92.74 L564.5,92.92 L565,93.09 L565.5,93.26 L566,93.43 L566.5,93.59 L567,93.75 L567.5,93.91 L568,94.07 L568.5,94.22 L569,94.37 L569.5,94.52 L570,94.67 L570.5,94.81 L571,94.95 L571.5,95.09 L572,95.23 L572.5,95.36 L573,95.49 L573.5,95.62 L574,95.75 L574.5,95.87 L575,95.99 L575.5,96.11 L576,96.22 L576.5,96.34 L577,96.45 L577.5,96.56 L578,96.66 L578.5,96.77 L579,96.87 L579.5,96.97 L580,97.06 L580.5,97.16 L581,97.25 L581.5,97.34 L582,97.43 L582.5,97.51 L583,97.59 L583.5,97.67 L584,97.75 L584.5,97.83 L585,97.91 L585.5,97.98 L586,98.05 L586.5,98.12 L587,98.18 L587.5,98.25 L588,98.31 L588.5,98.37 L589,98.43 L589.5,98.49 L590,98.55 L590.5,98.6 L591,98.66 L591.5,98.71 L592,98.76 L592.5,98.8 L593,98.85 L593.5,98.9 L594,98.94 L594.5,98.98 L595,99.02 L595.5,99.06 L596,99.1 L596.5,99.14 L597,99.17 L597.5,99.21 L598,99.24 L598.5,99.27 L599,99.3 L599.5,99.33 L600,99.36 L600.5,99.39 L601,99.41 L601.5,99.44 L602,99.46 L602.5,99.49 L603,99.51 L603.5,99.53 L604,99.55 L604.5,99.57 L605,99.59 L605.5,99.61 L606,99.63 L606.5,99.64 L607,99.66 L607.5,99.67 L608,99.69 L608.5,99.7 L609,99.72 L609.5,99.73 L610,99.74 L610.5,99.75 L611,99.77 L611.5,99.78 L612,99.79 L612.5,99.8 L613,99.81 L613.5,99.81 L614,99.82 L614.5,99.83 L615,99.84 L615.5,99.85 L616,99.85 L616.5,99.86 L617,99.87 L617.5,99.87 L618,99.88 L618.5,99.88 L619,99.89 L619.5,99.89 L620,99.9 L620.5,99.9 L621,99.91 L621.5,99.91 L622,99.91 L622.5,99.92 L623,99.92 L623.5,99.92 L624,99.93 L624.5,99.93 L625,99.93" fill="none" stroke="#222" stroke-width="1.2" stroke-linejoin="round"/>
<rect x="409" y="13.3" width="216.5" height="133.7" fill="none" stroke="#2a2a2a" stroke-width="1.15"/>
<path d="M409,147v-3M409,13.3v3M481.16,147v-3M481.16,13.3v3M553.32,147v-3M553.32,13.3v3M625.48,147v-3M625.48,13.3v3" stroke="#2a2a2a" stroke-width="0.8" fill="none"/>
<path d="M419.86,147v-1.7M419.86,13.3v1.7M426.21,147v-1.7M426.21,13.3v1.7M430.72,147v-1.7M430.72,13.3v1.7M434.22,147v-1.7M434.22,13.3v1.7M437.08,147v-1.7M437.08,13.3v1.7M439.49,147v-1.7M439.49,13.3v1.7M441.58,147v-1.7M441.58,13.3v1.7M443.43,147v-1.7M443.43,13.3v1.7M445.08,147v-1.7M445.08,13.3v1.7M492.02,147v-1.7M492.02,13.3v1.7M498.37,147v-1.7M498.37,13.3v1.7M502.88,147v-1.7M502.88,13.3v1.7M506.38,147v-1.7M506.38,13.3v1.7M509.24,147v-1.7M509.24,13.3v1.7M511.65,147v-1.7M511.65,13.3v1.7M513.74,147v-1.7M513.74,13.3v1.7M515.59,147v-1.7M515.59,13.3v1.7M517.24,147v-1.7M517.24,13.3v1.7M564.18,147v-1.7M564.18,13.3v1.7M570.53,147v-1.7M570.53,13.3v1.7M575.04,147v-1.7M575.04,13.3v1.7M578.54,147v-1.7M578.54,13.3v1.7M581.4,147v-1.7M581.4,13.3v1.7M583.81,147v-1.7M583.81,13.3v1.7M585.9,147v-1.7M585.9,13.3v1.7M587.75,147v-1.7M587.75,13.3v1.7M589.4,147v-1.7M589.4,13.3v1.7" stroke="#2a2a2a" stroke-width="0.8" fill="none"/>
<path d="M409,115.9h3M625.5,115.9h-3M409,84.8h3M625.5,84.8h-3M409,53.7h3M625.5,53.7h-3M409,22.6h3M625.5,22.6h-3" stroke="#2a2a2a" stroke-width="0.8" fill="none"/>
<path d="M409,137.64h1.7M625.5,137.64h-1.7M409,132.16h1.7M625.5,132.16h-1.7M409,128.28h1.7M625.5,128.28h-1.7M409,125.26h1.7M625.5,125.26h-1.7M409,122.8h1.7M625.5,122.8h-1.7M409,120.72h1.7M625.5,120.72h-1.7M409,118.91h1.7M625.5,118.91h-1.7M409,117.32h1.7M625.5,117.32h-1.7M409,106.54h1.7M625.5,106.54h-1.7M409,101.06h1.7M625.5,101.06h-1.7M409,97.18h1.7M625.5,97.18h-1.7M409,94.16h1.7M625.5,94.16h-1.7M409,91.7h1.7M625.5,91.7h-1.7M409,89.62h1.7M625.5,89.62h-1.7M409,87.81h1.7M625.5,87.81h-1.7M409,86.22h1.7M625.5,86.22h-1.7M409,75.44h1.7M625.5,75.44h-1.7M409,69.96h1.7M625.5,69.96h-1.7M409,66.08h1.7M625.5,66.08h-1.7M409,63.06h1.7M625.5,63.06h-1.7M409,60.6h1.7M625.5,60.6h-1.7M409,58.52h1.7M625.5,58.52h-1.7M409,56.71h1.7M625.5,56.71h-1.7M409,55.12h1.7M625.5,55.12h-1.7M409,44.34h1.7M625.5,44.34h-1.7M409,38.86h1.7M625.5,38.86h-1.7M409,34.98h1.7M625.5,34.98h-1.7M409,31.96h1.7M625.5,31.96h-1.7M409,29.5h1.7M625.5,29.5h-1.7M409,27.42h1.7M625.5,27.42h-1.7M409,25.61h1.7M625.5,25.61h-1.7M409,24.02h1.7M625.5,24.02h-1.7" stroke="#2a2a2a" stroke-width="0.8" fill="none"/>
<text transform="translate(402.8,25.5) scale(1,1.12)" font-size="8" text-anchor="end">1</text>
<text transform="translate(402.8,56.6) scale(1,1.12)" font-size="8" text-anchor="end">0.1</text>
<text transform="translate(402.8,87.7) scale(1,1.12)" font-size="8" text-anchor="end">0.01</text>
<text transform="translate(402.8,118.8) scale(1,1.12)" font-size="8" text-anchor="end">0.001</text>
<text transform="translate(402.8,149.9) scale(1,1.12)" font-size="8" text-anchor="end">0.0001</text>
<text transform="translate(409,161) scale(1,1.12)" font-size="8" text-anchor="middle">10<tspan font-size="6.1" dy="-3.6">−2</tspan></text>
<text transform="translate(481.16,161) scale(1,1.12)" font-size="8" text-anchor="middle">10<tspan font-size="6.1" dy="-3.6">0</tspan></text>
<text transform="translate(553.32,161) scale(1,1.12)" font-size="8" text-anchor="middle">10<tspan font-size="6.1" dy="-3.6">2</tspan></text>
<text transform="translate(625.48,161) scale(1,1.12)" font-size="8" text-anchor="middle">10<tspan font-size="6.1" dy="-3.6">4</tspan></text>
<text transform="translate(517.2,172.8) scale(1,1.12)" font-size="8" text-anchor="middle"><tspan font-style="italic">T</tspan> / <tspan font-style="italic">T</tspan><tspan font-size="6.2" dy="2.5">K</tspan></text>
<text transform="translate(367.3,85.3) rotate(-90) scale(1.05,1)" font-size="8" text-anchor="middle"><tspan font-style="italic">G</tspan> (<tspan font-style="italic">T</tspan>) [2<tspan font-style="italic">e</tspan><tspan font-size="5.6" dy="-3.2">2</tspan><tspan dy="3.2"> </tspan><tspan font-style="italic">h</tspan><tspan font-size="5.6" dy="-3.2">−1</tspan><tspan dy="3.2">]</tspan></text>
<text transform="translate(356.7,11.8) scale(1,1.18)" font-size="13" font-weight="bold">d</text>
<text transform="translate(657.7,18.6) scale(1,1.12)" font-size="8" text-anchor="middle"><tspan font-style="italic">eV</tspan><tspan font-size="6.4" dy="1.8" stroke-width="0">g</tspan><tspan dy="-1.8"> [eV]</tspan></text>
<rect x="632.8" y="28.8" width="50.6" height="91.7" fill="none" stroke="#555" stroke-width="0.9"/>
<path d="M639,36.5H650" stroke="#333" stroke-width="1.1"/>
<text transform="translate(653.8,39.4) scale(1,1.12)" font-size="8" text-anchor="start">2.4</text>
<path d="M639,49.08H650" stroke="#c07850" stroke-width="1.1"/>
<text transform="translate(653.8,51.98) scale(1,1.12)" font-size="8" text-anchor="start">2.45</text>
<path d="M639,61.66H650" stroke="#f0c040" stroke-width="1.1"/>
<text transform="translate(653.8,64.56) scale(1,1.12)" font-size="8" text-anchor="start">2.5</text>
<path d="M639,74.24H650" stroke="#c070d0" stroke-width="1.1"/>
<text transform="translate(653.8,77.14) scale(1,1.12)" font-size="8" text-anchor="start">2.55</text>
<path d="M639,86.82H650" stroke="#70c070" stroke-width="1.1"/>
<text transform="translate(653.8,89.72) scale(1,1.12)" font-size="8" text-anchor="start">2.575</text>
<path d="M639,99.4H650" stroke="#4a8ed0" stroke-width="1.1"/>
<text transform="translate(653.8,102.3) scale(1,1.12)" font-size="8" text-anchor="start">2.6</text>
<path d="M639,111.98H650" stroke="#e05060" stroke-width="1.1"/>
<text transform="translate(653.8,114.88) scale(1,1.12)" font-size="8" text-anchor="start">2.625</text>
<path d="M536.6,52H553.4M579.8,52H596.4" stroke="#333" stroke-width="1.05" stroke-dasharray="2.4,1.4"/>
<path d="M553.3,52V67.6M555.9,54.3V67.6M553.3,52L566.4,44.9L579.6,52M566.4,44.9V29.1M567.4,48.3L578.3,54.6" stroke="#222" stroke-width="1.2" fill="none" stroke-linejoin="round"/>
<circle cx="569.5" cy="26.8" r="1.1" fill="#111"/>
<path d="M517.3,42.2 Q529.02,42.89 536.2,52 Q529.02,61.02 517.3,61.7 Q525.24,52 517.3,42.2Z" fill="url(#gold)" stroke="#c9aa5a" stroke-width="0.6"/>
<path d="M615.5,42.2 Q603.78,42.89 596.6,52 Q603.78,61.02 615.5,61.7 Q607.56,52 615.5,42.2Z" fill="url(#gold)" stroke="#c9aa5a" stroke-width="0.6"/>
<path d="M43.3,221.85 L43.65,223.21 L44.15,225.04 L44.65,226.77 L45.15,228.41 L45.65,229.97 L46.15,231.45 L46.65,232.87 L47.15,234.22 L47.65,235.52 L48.15,236.78 L48.65,237.99 L49.15,239.17 L49.65,240.31 L50.15,241.43 L50.65,242.53 L51.15,243.61 L51.65,244.67 L52.15,245.72 L52.65,246.76 L53.15,247.79 L53.65,248.82 L54.15,249.84 L54.65,250.87 L55.15,251.89 L55.65,252.91 L56.15,253.94 L56.65,254.97 L57.15,256 L57.65,257.03 L58.15,258.07 L58.65,259.12 L59.15,260.17 L59.65,261.22 L60.15,262.28 L60.65,263.34 L61.15,264.41 L61.65,265.48 L62.15,266.55 L62.65,267.62 L63.15,268.7 L63.65,269.78 L64.15,270.85 L64.65,271.93 L65.15,273.01 L65.65,274.08 L66.15,275.15 L66.65,276.22 L67.15,277.29 L67.65,278.35 L68.15,279.4 L68.65,280.45 L69.15,281.49 L69.65,282.52 L70.15,283.54 L70.65,284.55 L71.15,285.55 L71.65,286.55 L72.15,287.53 L72.65,288.49 L73.15,289.45 L73.65,290.39 L74.15,291.31 L74.65,292.22 L75.15,293.12 L75.65,294 L76.15,294.86 L76.65,295.71 L77.15,296.54 L77.65,297.36 L78.15,298.15 L78.65,298.93 L79.15,299.69 L79.65,300.43 L80.15,301.15 L80.65,301.86 L81.15,302.55 L81.65,303.21 L82.15,303.86 L82.65,304.49 L83.15,305.1 L83.65,305.7 L84.15,306.27 L84.65,306.82 L85.15,307.36 L85.65,307.88 L86.15,308.38 L86.65,308.86 L87.15,309.33 L87.65,309.78 L88.15,310.21 L88.65,310.62 L89.15,311.02 L89.65,311.4 L90.15,311.76 L90.65,312.11 L91.15,312.45 L91.65,312.76 L92.15,313.07 L92.65,313.35 L93.15,313.63 L93.65,313.89 L94.15,314.13 L94.65,314.37 L95.15,314.58 L95.65,314.79 L96.15,314.99 L96.65,315.17 L97.15,315.34 L97.65,315.5 L98.15,315.64 L98.65,315.78 L99.15,315.9 L99.65,316.02 L100.15,316.12 L100.65,316.21 L101.15,316.29 L101.65,316.37 L102.15,316.43 L102.65,316.48 L103.15,316.52 L103.65,316.56 L104.15,316.58 L104.65,316.6 L105.15,316.6 L105.65,316.6 L106.15,316.58 L106.65,316.56 L107.15,316.52 L107.65,316.48 L108.15,316.43 L108.65,316.37 L109.15,316.29 L109.65,316.21 L110.15,316.12 L110.65,316.02 L111.15,315.9 L111.65,315.78 L112.15,315.64 L112.65,315.5 L113.15,315.34 L113.65,315.17 L114.15,314.99 L114.65,314.79 L115.15,314.58 L115.65,314.37 L116.15,314.13 L116.65,313.89 L117.15,313.63 L117.65,313.35 L118.15,313.07 L118.65,312.76 L119.15,312.45 L119.65,312.11 L120.15,311.76 L120.65,311.4 L121.15,311.02 L121.65,310.62 L122.15,310.21 L122.65,309.78 L123.15,309.33 L123.65,308.86 L124.15,308.38 L124.65,307.88 L125.15,307.36 L125.65,306.82 L126.15,306.27 L126.65,305.7 L127.15,305.1 L127.65,304.49 L128.15,303.86 L128.65,303.21 L129.15,302.55 L129.65,301.86 L130.15,301.15 L130.65,300.43 L131.15,299.69 L131.65,298.93 L132.15,298.15 L132.65,297.36 L133.15,296.54 L133.65,295.71 L134.15,294.86 L134.65,294 L135.15,293.12 L135.65,292.22 L136.15,291.31 L136.65,290.39 L137.15,289.45 L137.65,288.49 L138.15,287.53 L138.65,286.55 L139.15,285.55 L139.65,284.55 L140.15,283.54 L140.65,282.52 L141.15,281.49 L141.65,280.45 L142.15,279.4 L142.65,278.35 L143.15,277.29 L143.65,276.22 L144.15,275.15 L144.65,274.08 L145.15,273.01 L145.65,271.93 L146.15,270.85 L146.65,269.78 L147.15,268.7 L147.65,267.62 L148.15,266.55 L148.65,265.48 L149.15,264.41 L149.65,263.34 L150.15,262.28 L150.65,261.22 L151.15,260.17 L151.65,259.12 L152.15,258.07 L152.65,257.03 L153.15,256 L153.65,254.97 L154.15,253.94 L154.65,252.91 L155.15,251.89 L155.65,250.87 L156.15,249.84 L156.65,248.82 L157.15,247.79 L157.65,246.76 L158.15,245.72 L158.65,244.67 L159.15,243.61 L159.65,242.53 L160.15,241.43 L160.65,240.31 L161.15,239.17 L161.65,237.99 L162.15,236.78 L162.65,235.52 L163.15,234.22 L163.65,232.87 L164.15,231.45 L164.65,229.97 L165.15,228.41 L165.65,226.77 L166.15,225.04 L166.65,223.21 L167,221.85" fill="none" stroke="#d8404a" stroke-width="1.3" stroke-linejoin="round"/>
<rect x="43.3" y="206.6" width="123.7" height="110.1" fill="none" stroke="#2a2a2a" stroke-width="1.15"/>
<path d="M74.22,316.7v-3M74.22,206.6v3M105.15,316.7v-3M105.15,206.6v3M136.08,316.7v-3M136.08,206.6v3" stroke="#2a2a2a" stroke-width="0.8" fill="none"/>
<path d="M58.76,316.7v-1.7M58.76,206.6v1.7M89.69,316.7v-1.7M89.69,206.6v1.7M120.62,316.7v-1.7M120.62,206.6v1.7M151.55,316.7v-1.7M151.55,206.6v1.7" stroke="#2a2a2a" stroke-width="0.8" fill="none"/>
<path d="M43.3,280h3M167,280h-3M43.3,243.3h3M167,243.3h-3" stroke="#2a2a2a" stroke-width="0.8" fill="none"/>
<path d="M43.3,298.35h1.7M167,298.35h-1.7M43.3,261.65h1.7M167,261.65h-1.7M43.3,224.95h1.7M167,224.95h-1.7" stroke="#2a2a2a" stroke-width="0.8" fill="none"/>
<text transform="translate(39.2,319.6) scale(1,1.12)" font-size="8" text-anchor="end">0</text>
<text transform="translate(39.2,282.9) scale(1,1.12)" font-size="8" text-anchor="end">0.001</text>
<text transform="translate(39.2,246.2) scale(1,1.12)" font-size="8" text-anchor="end">0.002</text>
<text transform="translate(39.2,210.9) scale(1,1.12)" font-size="8" text-anchor="end">0.003</text>
<text transform="translate(43.29,327.7) scale(1,1.12)" font-size="8" text-anchor="middle">−2</text>
<text transform="translate(74.22,327.7) scale(1,1.12)" font-size="8" text-anchor="middle">−1</text>
<text transform="translate(105.15,327.7) scale(1,1.12)" font-size="8" text-anchor="middle">0</text>
<text transform="translate(136.08,327.7) scale(1,1.12)" font-size="8" text-anchor="middle">1</text>
<text transform="translate(167.01,327.7) scale(1,1.12)" font-size="8" text-anchor="middle">2</text>
<text transform="translate(103.9,340.3) scale(1,1.12)" font-size="8" text-anchor="middle"><tspan font-style="italic">eV</tspan><tspan font-size="6.4" dy="3.0" stroke-width="0">g</tspan><tspan dy="-3.0"> [eV]</tspan></text>
<text transform="translate(11.4,261.2) rotate(-90) scale(1.05,1)" font-size="8" text-anchor="middle"><tspan font-style="italic">G</tspan> (0) [2<tspan font-style="italic">e</tspan><tspan font-size="5.6" dy="-3.2">2</tspan><tspan dy="3.2"> </tspan><tspan font-style="italic">h</tspan><tspan font-size="5.6" dy="-3.2">−1</tspan><tspan dy="3.2">]</tspan></text>
<text transform="translate(1.7,199.7) scale(1,1.18)" font-size="13" font-weight="bold">b</text>
<rect x="82.8" y="221.2" width="51.7" height="52.8" fill="#fff" stroke="#2a2a2a" stroke-width="1"/>
<path d="M103.45,274v-2.5M103.45,221.2v2.5M124.1,274v-2.5M124.1,221.2v2.5" stroke="#2a2a2a" stroke-width="0.8" fill="none"/>
<path d="M89.02,274v-1.6M89.02,221.2v1.6M92.65,274v-1.6M92.65,221.2v1.6M95.23,274v-1.6M95.23,221.2v1.6M97.23,274v-1.6M97.23,221.2v1.6M98.87,274v-1.6M98.87,221.2v1.6M100.25,274v-1.6M100.25,221.2v1.6M101.45,274v-1.6M101.45,221.2v1.6M102.51,274v-1.6M102.51,221.2v1.6M109.67,274v-1.6M109.67,221.2v1.6M113.3,274v-1.6M113.3,221.2v1.6M115.88,274v-1.6M115.88,221.2v1.6M117.88,274v-1.6M117.88,221.2v1.6M119.52,274v-1.6M119.52,221.2v1.6M120.9,274v-1.6M120.9,221.2v1.6M122.1,274v-1.6M122.1,221.2v1.6M123.16,274v-1.6M123.16,221.2v1.6M130.32,274v-1.6M130.32,221.2v1.6M133.95,274v-1.6M133.95,221.2v1.6" stroke="#2a2a2a" stroke-width="0.9" fill="none"/>
<path d="M82.8,256.36h2.5M134.5,256.36h-2.5M82.8,238.72h2.5M134.5,238.72h-2.5" stroke="#2a2a2a" stroke-width="0.8" fill="none"/>
<path d="M82.8,271.34h2M134.5,271.34h-2M82.8,269.79h2M134.5,269.79h-2M82.8,268.69h2M134.5,268.69h-2M82.8,267.84h2M134.5,267.84h-2M82.8,267.14h2M134.5,267.14h-2M82.8,266.55h2M134.5,266.55h-2M82.8,266.03h2M134.5,266.03h-2M82.8,265.58h2M134.5,265.58h-2M82.8,265.18h2M134.5,265.18h-2M82.8,253.7h2M134.5,253.7h-2M82.8,252.15h2M134.5,252.15h-2M82.8,251.05h2M134.5,251.05h-2M82.8,250.2h2M134.5,250.2h-2M82.8,249.5h2M134.5,249.5h-2M82.8,248.91h2M134.5,248.91h-2M82.8,248.39h2M134.5,248.39h-2M82.8,247.94h2M134.5,247.94h-2M82.8,247.54h2M134.5,247.54h-2M82.8,236.06h2M134.5,236.06h-2M82.8,234.51h2M134.5,234.51h-2M82.8,233.41h2M134.5,233.41h-2M82.8,232.56h2M134.5,232.56h-2M82.8,231.86h2M134.5,231.86h-2M82.8,231.27h2M134.5,231.27h-2M82.8,230.75h2M134.5,230.75h-2M82.8,230.3h2M134.5,230.3h-2M82.8,229.9h2M134.5,229.9h-2" stroke="#2a2a2a" stroke-width="1.0" fill="none"/>
<path d="M83.4,265.5 L131.2,226.2" fill="none" stroke="#d8404a" stroke-width="1.1" stroke-linejoin="round"/>
<text transform="translate(80.2,224.88) scale(1,1.12)" font-size="6.4" text-anchor="end">10<tspan font-size="4.6" dy="-2.8">−2</tspan></text>
<text transform="translate(80.2,242.52) scale(1,1.12)" font-size="6.4" text-anchor="end">10<tspan font-size="4.6" dy="-2.8">−4</tspan></text>
<text transform="translate(80.2,260.16) scale(1,1.12)" font-size="6.4" text-anchor="end">10<tspan font-size="4.6" dy="-2.8">−6</tspan></text>
<text transform="translate(80.2,277.8) scale(1,1.12)" font-size="6.4" text-anchor="end">10<tspan font-size="4.6" dy="-2.8">−8</tspan></text>
<text transform="translate(82.8,283) scale(1,1.12)" font-size="6.4" text-anchor="middle">0.01</text>
<text transform="translate(103.45,283) scale(1,1.12)" font-size="6.4" text-anchor="middle">0.1</text>
<text transform="translate(124.1,283) scale(1,1.12)" font-size="6.4" text-anchor="middle">1</text>
<path d="M215.7,216.42 L216,217.25 L216.5,218.62 L217,219.96 L217.5,221.28 L218,222.57 L218.5,223.85 L219,225.1 L219.5,226.34 L220,227.57 L220.5,228.77 L221,229.97 L221.5,231.15 L222,232.32 L222.5,233.48 L223,234.63 L223.5,235.77 L224,236.9 L224.5,238.03 L225,239.14 L225.5,240.25 L226,241.35 L226.5,242.45 L227,243.53 L227.5,244.61 L228,245.69 L228.5,246.75 L229,247.82 L229.5,248.87 L230,249.92 L230.5,250.96 L231,251.99 L231.5,253.02 L232,254.04 L232.5,255.06 L233,256.06 L233.5,257.06 L234,258.05 L234.5,259.04 L235,260.01 L235.5,260.98 L236,261.94 L236.5,262.88 L237,263.82 L237.5,264.76 L238,265.68 L238.5,266.59 L239,267.49 L239.5,268.38 L240,269.26 L240.5,270.13 L241,270.99 L241.5,271.83 L242,272.67 L242.5,273.49 L243,274.31 L243.5,275.11 L244,275.89 L244.5,276.67 L245,277.43 L245.5,278.18 L246,278.92 L246.5,279.64 L247,280.36 L247.5,281.05 L248,281.74 L248.5,282.41 L249,283.07 L249.5,283.71 L250,284.35 L250.5,284.96 L251,285.57 L251.5,286.16 L252,286.74 L252.5,287.3 L253,287.85 L253.5,288.39 L254,288.91 L254.5,289.42 L255,289.92 L255.5,290.41 L256,290.88 L256.5,291.33 L257,291.78 L257.5,292.21 L258,292.63 L258.5,293.04 L259,293.43 L259.5,293.82 L260,294.19 L260.5,294.54 L261,294.89 L261.5,295.23 L262,295.55 L262.5,295.86 L263,296.16 L263.5,296.45 L264,296.73 L264.5,296.99 L265,297.25 L265.5,297.49 L266,297.73 L266.5,297.95 L267,298.17 L267.5,298.37 L268,298.57 L268.5,298.75 L269,298.93 L269.5,299.09 L270,299.25 L270.5,299.4 L271,299.54 L271.5,299.66 L272,299.78 L272.5,299.9 L273,300 L273.5,300.09 L274,300.18 L274.5,300.26 L275,300.33 L275.5,300.39 L276,300.44 L276.5,300.48 L277,300.52 L277.5,300.55 L278,300.57 L278.5,300.58 L279,300.58 L279.5,300.58 L280,300.57 L280.5,300.55 L281,300.52 L281.5,300.48 L282,300.44 L282.5,300.39 L283,300.33 L283.5,300.26 L284,300.18 L284.5,300.09 L285,300 L285.5,299.9 L286,299.78 L286.5,299.66 L287,299.54 L287.5,299.4 L288,299.25 L288.5,299.09 L289,298.93 L289.5,298.75 L290,298.57 L290.5,298.37 L291,298.17 L291.5,297.95 L292,297.73 L292.5,297.49 L293,297.25 L293.5,296.99 L294,296.73 L294.5,296.45 L295,296.16 L295.5,295.86 L296,295.55 L296.5,295.23 L297,294.89 L297.5,294.54 L298,294.19 L298.5,293.82 L299,293.43 L299.5,293.04 L300,292.63 L300.5,292.21 L301,291.78 L301.5,291.33 L302,290.88 L302.5,290.41 L303,289.92 L303.5,289.42 L304,288.91 L304.5,288.39 L305,287.85 L305.5,287.3 L306,286.74 L306.5,286.16 L307,285.57 L307.5,284.96 L308,284.35 L308.5,283.71 L309,283.07 L309.5,282.41 L310,281.74 L310.5,281.05 L311,280.36 L311.5,279.64 L312,278.92 L312.5,278.18 L313,277.43 L313.5,276.67 L314,275.89 L314.5,275.11 L315,274.31 L315.5,273.49 L316,272.67 L316.5,271.83 L317,270.99 L317.5,270.13 L318,269.26 L318.5,268.38 L319,267.49 L319.5,266.59 L320,265.68 L320.5,264.76 L321,263.82 L321.5,262.88 L322,261.94 L322.5,260.98 L323,260.01 L323.5,259.04 L324,258.05 L324.5,257.06 L325,256.06 L325.5,255.06 L326,254.04 L326.5,253.02 L327,251.99 L327.5,250.96 L328,249.92 L328.5,248.87 L329,247.82 L329.5,246.75 L330,245.69 L330.5,244.61 L331,243.53 L331.5,242.45 L332,241.35 L332.5,240.25 L333,239.14 L333.5,238.03 L334,236.9 L334.5,235.77 L335,234.63 L335.5,233.48 L336,232.32 L336.5,231.15 L337,229.97 L337.5,228.77 L338,227.57 L338.5,226.34 L339,225.1 L339.5,223.85 L340,222.57 L340.5,221.28 L341,219.96 L341.5,218.62" fill="none" stroke="#4f8fcc" stroke-width="1.3" stroke-linejoin="round"/>
<rect x="215.7" y="207.2" width="125.9" height="109.4" fill="none" stroke="#2a2a2a" stroke-width="1.15"/>
<path d="M247.18,316.6v-3M247.18,207.2v3M278.65,316.6v-3M278.65,207.2v3M310.12,316.6v-3M310.12,207.2v3" stroke="#2a2a2a" stroke-width="0.8" fill="none"/>
<path d="M231.44,316.6v-1.7M231.44,207.2v1.7M262.91,316.6v-1.7M262.91,207.2v1.7M294.38,316.6v-1.7M294.38,207.2v1.7M325.85,316.6v-1.7M325.85,207.2v1.7" stroke="#2a2a2a" stroke-width="0.8" fill="none"/>
<path d="M215.7,261.9h3M341.6,261.9h-3" stroke="#2a2a2a" stroke-width="0.8" fill="none"/>
<path d="M215.7,300.13h1.7M341.6,300.13h-1.7M215.7,290.5h1.7M341.6,290.5h-1.7M215.7,283.67h1.7M341.6,283.67h-1.7M215.7,278.37h1.7M341.6,278.37h-1.7M215.7,274.04h1.7M341.6,274.04h-1.7M215.7,270.37h1.7M341.6,270.37h-1.7M215.7,267.2h1.7M341.6,267.2h-1.7M215.7,264.4h1.7M341.6,264.4h-1.7M215.7,245.43h1.7M341.6,245.43h-1.7M215.7,235.8h1.7M341.6,235.8h-1.7M215.7,228.97h1.7M341.6,228.97h-1.7M215.7,223.67h1.7M341.6,223.67h-1.7M215.7,219.34h1.7M341.6,219.34h-1.7M215.7,215.67h1.7M341.6,215.67h-1.7M215.7,212.5h1.7M341.6,212.5h-1.7M215.7,209.7h1.7M341.6,209.7h-1.7" stroke="#2a2a2a" stroke-width="0.8" fill="none"/>
<text transform="translate(211.3,212.2) scale(1,1.12)" font-size="8" text-anchor="end">10<tspan font-size="6.1" dy="-3.6">−2</tspan></text>
<text transform="translate(211.3,265.3) scale(1,1.12)" font-size="8" text-anchor="end">10<tspan font-size="6.1" dy="-3.6">−3</tspan></text>
<text transform="translate(211.3,320) scale(1,1.12)" font-size="8" text-anchor="end">10<tspan font-size="6.1" dy="-3.6">−4</tspan></text>
<text transform="translate(215.71,327.7) scale(1,1.12)" font-size="8" text-anchor="middle">−2</text>
<text transform="translate(247.18,327.7) scale(1,1.12)" font-size="8" text-anchor="middle">−1</text>
<text transform="translate(278.65,327.7) scale(1,1.12)" font-size="8" text-anchor="middle">0</text>
<text transform="translate(310.12,327.7) scale(1,1.12)" font-size="8" text-anchor="middle">1</text>
<text transform="translate(341.59,327.7) scale(1,1.12)" font-size="8" text-anchor="middle">2</text>
<text transform="translate(278.9,340.3) scale(1,1.12)" font-size="8" text-anchor="middle"><tspan font-style="italic">eV</tspan><tspan font-size="6.4" dy="3.0" stroke-width="0">g</tspan><tspan dy="-3.0"> [eV]</tspan></text>
<text transform="translate(185.4,261.8) rotate(-90) scale(1.05,1)" font-size="8.6" text-anchor="middle"><tspan font-style="italic">T</tspan><tspan font-size="6" dy="2.2">K</tspan><tspan dy="-2.2" dx="0.6">/</tspan><tspan font-style="italic" dx="0.4">D</tspan></text>
<text transform="translate(179.1,200) scale(1,1.18)" font-size="13" font-weight="bold">c</text>
<path d="M386.6,313.6 L386.8,313.59 L387.06,313.58 L387.36,313.57 L387.7,313.56 L388.07,313.54 L388.46,313.53 L388.85,313.52 L389.25,313.51 L389.63,313.5 L390,313.5 L390.36,313.5 L390.74,313.49 L391.12,313.49 L391.5,313.48 L391.89,313.48 L392.27,313.49 L392.65,313.5 L393.01,313.52 L393.37,313.55 L393.7,313.6 L394.02,313.66 L394.31,313.73 L394.6,313.82 L394.88,313.91 L395.14,314.01 L395.41,314.12 L395.67,314.23 L395.94,314.35 L396.22,314.48 L396.5,314.6 L396.79,314.74 L397.09,314.89 L397.38,315.05 L397.68,315.23 L397.98,315.4 L398.28,315.57 L398.59,315.73 L398.89,315.88 L399.2,316 L399.5,316.1 L399.82,316.17 L400.16,316.23 L400.52,316.26 L400.88,316.28 L401.24,316.29 L401.58,316.3 L401.89,316.3 L402.18,316.29 L402.42,316.29 L402.6,316.3 L402.6,316.3 L403.4,300 L404.3,250 L405,214 L405.3,212.2 L405.8,225 L406.5,262 L407.3,282 L407.36,282.65 L407.43,283.51 L407.52,284.54 L407.62,285.68 L407.72,286.91 L407.84,288.16 L407.95,289.39 L408.07,290.55 L408.19,291.61 L408.3,292.5 L408.41,293.26 L408.53,293.95 L408.64,294.58 L408.76,295.16 L408.88,295.69 L409,296.19 L409.13,296.66 L409.25,297.11 L409.38,297.56 L409.5,298 L409.62,298.43 L409.75,298.83 L409.87,299.21 L409.99,299.56 L410.12,299.89 L410.25,300.21 L410.38,300.52 L410.51,300.82 L410.65,301.11 L410.8,301.4 L410.95,301.68 L411.11,301.96 L411.27,302.22 L411.44,302.47 L411.61,302.71 L411.78,302.94 L411.96,303.16 L412.13,303.38 L412.32,303.59 L412.5,303.8 L412.68,304 L412.85,304.18 L413.01,304.36 L413.18,304.52 L413.36,304.68 L413.54,304.84 L413.74,305 L413.97,305.16 L414.22,305.33 L414.5,305.5 L414.81,305.69 L415.13,305.88 L415.47,306.08 L415.84,306.28 L416.22,306.49 L416.62,306.69 L417.05,306.88 L417.51,307.07 L417.99,307.24 L418.5,307.4 L419.03,307.54 L419.58,307.68 L420.16,307.8 L420.75,307.92 L421.38,308.03 L422.03,308.13 L422.71,308.23 L423.44,308.32 L424.2,308.41 L425,308.5 L425.84,308.58 L426.71,308.66 L427.61,308.73 L428.54,308.8 L429.51,308.86 L430.52,308.91 L431.57,308.97 L432.67,309.01 L433.81,309.06 L435,309.1 L436.32,309.14 L437.81,309.17 L439.42,309.2 L441.1,309.22 L442.77,309.24 L444.4,309.25 L445.93,309.27 L447.29,309.28 L448.43,309.29 L449.3,309.3 L450.17,309.29 L451.31,309.28 L452.67,309.27 L454.2,309.25 L455.83,309.24 L457.5,309.22 L459.18,309.2 L460.79,309.17 L462.28,309.14 L463.6,309.1 L464.79,309.06 L465.93,309.01 L467.03,308.97 L468.08,308.91 L469.09,308.86 L470.06,308.8 L470.99,308.73 L471.89,308.66 L472.76,308.58 L473.6,308.5 L474.4,308.41 L475.16,308.32 L475.89,308.23 L476.57,308.13 L477.23,308.03 L477.85,307.92 L478.44,307.8 L479.02,307.68 L479.57,307.54 L480.1,307.4 L480.61,307.24 L481.09,307.07 L481.55,306.88 L481.98,306.69 L482.38,306.49 L482.76,306.28 L483.13,306.08 L483.47,305.88 L483.79,305.69 L484.1,305.5 L484.38,305.33 L484.63,305.16 L484.86,305 L485.06,304.84 L485.24,304.68 L485.42,304.52 L485.59,304.36 L485.75,304.18 L485.92,304 L486.1,303.8 L486.28,303.59 L486.47,303.38 L486.64,303.16 L486.82,302.94 L486.99,302.71 L487.16,302.47 L487.33,302.22 L487.49,301.96 L487.65,301.68 L487.8,301.4 L487.95,301.11 L488.09,300.82 L488.22,300.52 L488.35,300.21 L488.48,299.89 L488.61,299.56 L488.73,299.21 L488.85,298.83 L488.98,298.43 L489.1,298 L489.22,297.56 L489.35,297.11 L489.47,296.66 L489.6,296.19 L489.72,295.69 L489.84,295.16 L489.96,294.58 L490.07,293.95 L490.19,293.26 L490.3,292.5 L490.41,291.61 L490.53,290.55 L490.65,289.39 L490.76,288.16 L490.88,286.91 L490.98,285.68 L491.08,284.54 L491.17,283.51 L491.24,282.65 L491.3,282 L492.1,262 L492.8,225 L493.3,212.2 L493.6,214 L494.3,250 L495.2,300 L496,316.3 L496,316.3 L496.18,316.29 L496.42,316.29 L496.71,316.3 L497.02,316.3 L497.36,316.29 L497.72,316.28 L498.08,316.26 L498.44,316.23 L498.78,316.17 L499.1,316.1 L499.4,316 L499.71,315.88 L500.01,315.73 L500.32,315.57 L500.62,315.4 L500.92,315.23 L501.22,315.05 L501.51,314.89 L501.81,314.74 L502.1,314.6 L502.38,314.48 L502.66,314.35 L502.93,314.23 L503.19,314.12 L503.46,314.01 L503.72,313.91 L504,313.82 L504.29,313.73 L504.58,313.66 L504.9,313.6 L505.23,313.55 L505.59,313.52 L505.95,313.5 L506.33,313.49 L506.71,313.48 L507.1,313.48 L507.48,313.49 L507.86,313.49 L508.24,313.5 L508.6,313.5 L508.97,313.5 L509.35,313.51 L509.75,313.52 L510.14,313.53 L510.53,313.54 L510.9,313.56 L511.24,313.57 L511.54,313.58 L511.8,313.59 L512,313.6" fill="none" stroke="#d84450" stroke-width="1.45" stroke-linejoin="round"/>
<rect x="386.6" y="206.7" width="125.7" height="109.9" fill="none" stroke="#2a2a2a" stroke-width="1.15"/>
<path d="M395.42,316.6v-3M395.42,206.7v3M413.38,316.6v-3M413.38,206.7v3M431.34,316.6v-3M431.34,206.7v3M449.3,316.6v-3M449.3,206.7v3M467.26,316.6v-3M467.26,206.7v3M485.22,316.6v-3M485.22,206.7v3M503.18,316.6v-3M503.18,206.7v3" stroke="#2a2a2a" stroke-width="0.8" fill="none"/>
<path d="M404.4,316.6v-1.7M404.4,206.7v1.7M422.36,316.6v-1.7M422.36,206.7v1.7M440.32,316.6v-1.7M440.32,206.7v1.7M458.28,316.6v-1.7M458.28,206.7v1.7M476.24,316.6v-1.7M476.24,206.7v1.7M494.2,316.6v-1.7M494.2,206.7v1.7" stroke="#2a2a2a" stroke-width="0.8" fill="none"/>
<path d="M386.6,296.54h3M512.3,296.54h-3M386.6,276.48h3M512.3,276.48h-3M386.6,256.42h3M512.3,256.42h-3M386.6,236.36h3M512.3,236.36h-3M386.6,216.3h3M512.3,216.3h-3" stroke="#2a2a2a" stroke-width="0.8" fill="none"/>
<path d="M386.6,306.57h1.7M512.3,306.57h-1.7M386.6,286.51h1.7M512.3,286.51h-1.7M386.6,266.45h1.7M512.3,266.45h-1.7M386.6,246.39h1.7M512.3,246.39h-1.7M386.6,226.33h1.7M512.3,226.33h-1.7" stroke="#2a2a2a" stroke-width="0.8" fill="none"/>
<text transform="translate(382.3,319.5) scale(1,1.12)" font-size="8" text-anchor="end">0</text>
<text transform="translate(382.3,299.44) scale(1,1.12)" font-size="8" text-anchor="end">0.2</text>
<text transform="translate(382.3,279.38) scale(1,1.12)" font-size="8" text-anchor="end">0.4</text>
<text transform="translate(382.3,259.32) scale(1,1.12)" font-size="8" text-anchor="end">0.6</text>
<text transform="translate(382.3,239.26) scale(1,1.12)" font-size="8" text-anchor="end">0.8</text>
<text transform="translate(382.3,219.2) scale(1,1.12)" font-size="8" text-anchor="end">1</text>
<text transform="translate(395.42,327.7) scale(1,1.12)" font-size="8" text-anchor="middle">−3</text>
<text transform="translate(413.38,327.7) scale(1,1.12)" font-size="8" text-anchor="middle">−2</text>
<text transform="translate(431.34,327.7) scale(1,1.12)" font-size="8" text-anchor="middle">−1</text>
<text transform="translate(449.3,327.7) scale(1,1.12)" font-size="8" text-anchor="middle">0</text>
<text transform="translate(467.26,327.7) scale(1,1.12)" font-size="8" text-anchor="middle">1</text>
<text transform="translate(485.22,327.7) scale(1,1.12)" font-size="8" text-anchor="middle">2</text>
<text transform="translate(503.18,327.7) scale(1,1.12)" font-size="8" text-anchor="middle">3</text>
<text transform="translate(448.9,340.3) scale(1,1.12)" font-size="8" text-anchor="middle"><tspan font-style="italic">eV</tspan><tspan font-size="6.4" dy="3.0" stroke-width="0">g</tspan><tspan dy="-3.0"> [eV]</tspan></text>
<text transform="translate(363.2,262) rotate(-90) scale(1.05,1)" font-size="8" text-anchor="middle"><tspan font-style="italic">G</tspan> (0) [2<tspan font-style="italic">e</tspan><tspan font-size="5.6" dy="-3.2">2</tspan><tspan dy="3.2"> </tspan><tspan font-style="italic">h</tspan><tspan font-size="5.6" dy="-3.2">−1</tspan><tspan dy="3.2">]</tspan></text>
<text transform="translate(355.6,200.5) scale(1,1.18)" font-size="13" font-weight="bold">e</text>
<rect x="425.3" y="222.1" width="51.7" height="50.9" fill="#fff" stroke="#2a2a2a" stroke-width="1"/>
<path d="M442.53,273v-2.5M442.53,222.1v2.5M459.77,273v-2.5M459.77,222.1v2.5" stroke="#2a2a2a" stroke-width="0.8" fill="none"/>
<path d="M433.92,273v-1.4M433.92,222.1v1.4M451.15,273v-1.4M451.15,222.1v1.4M468.38,273v-1.4M468.38,222.1v1.4" stroke="#2a2a2a" stroke-width="0.8" fill="none"/>
<path d="M425.3,250.1h2.5M477,250.1h-2.5M425.3,227.2h2.5M477,227.2h-2.5" stroke="#2a2a2a" stroke-width="0.8" fill="none"/>
<path d="M425.3,269.55h2M477,269.55h-2M425.3,267.54h2M477,267.54h-2M425.3,266.11h2M477,266.11h-2M425.3,265h2M477,265h-2M425.3,264.09h2M477,264.09h-2M425.3,263.32h2M477,263.32h-2M425.3,262.66h2M477,262.66h-2M425.3,262.07h2M477,262.07h-2M425.3,261.55h2M477,261.55h-2M425.3,246.65h2M477,246.65h-2M425.3,244.64h2M477,244.64h-2M425.3,243.21h2M477,243.21h-2M425.3,242.1h2M477,242.1h-2M425.3,241.19h2M477,241.19h-2M425.3,240.42h2M477,240.42h-2M425.3,239.76h2M477,239.76h-2M425.3,239.17h2M477,239.17h-2M425.3,238.65h2M477,238.65h-2M425.3,223.75h2M477,223.75h-2" stroke="#2a2a2a" stroke-width="1.0" fill="none"/>
<clipPath id="cle"><rect x="425.3" y="222.1" width="51.7" height="50.9"/></clipPath>
<path d="M425.8,234.7 L426.05,234.63 L426.37,234.54 L426.76,234.44 L427.19,234.32 L427.65,234.19 L428.13,234.06 L428.62,233.92 L429.11,233.78 L429.57,233.64 L430,233.5 L430.41,233.36 L430.81,233.23 L431.21,233.08 L431.61,232.94 L432.01,232.79 L432.41,232.64 L432.81,232.49 L433.2,232.33 L433.6,232.17 L434,232 L434.4,231.83 L434.82,231.64 L435.23,231.46 L435.65,231.26 L436.06,231.07 L436.47,230.87 L436.87,230.68 L437.26,230.48 L437.64,230.29 L438,230.1 L438.35,229.91 L438.69,229.72 L439.02,229.52 L439.34,229.33 L439.65,229.14 L439.95,228.95 L440.23,228.77 L440.51,228.6 L440.76,228.44 L441,228.3 L441.22,228.17 L441.42,228.04 L441.6,227.93 L441.76,227.82 L441.91,227.72 L442.06,227.64 L442.19,227.56 L442.33,227.5 L442.46,227.44 L442.6,227.4 L442.73,227.36 L442.85,227.33 L442.97,227.3 L443.08,227.28 L443.18,227.27 L443.29,227.28 L443.4,227.31 L443.52,227.38 L443.65,227.47 L443.8,227.6 L443.95,227.76 L444.1,227.93 L444.25,228.12 L444.4,228.33 L444.57,228.57 L444.75,228.85 L444.95,229.17 L445.17,229.53 L445.42,229.94 L445.7,230.4 L446.02,230.92 L446.38,231.51 L446.77,232.16 L447.18,232.84 L447.61,233.57 L448.05,234.32 L448.5,235.09 L448.94,235.86 L449.38,236.64 L449.8,237.4 L450.21,238.16 L450.62,238.92 L451.03,239.68 L451.44,240.46 L451.86,241.25 L452.27,242.06 L452.68,242.88 L453.09,243.73 L453.49,244.6 L453.9,245.5 L454.31,246.44 L454.74,247.44 L455.17,248.47 L455.6,249.52 L456.02,250.59 L456.44,251.66 L456.84,252.72 L457.22,253.75 L457.58,254.75 L457.9,255.7 L458.19,256.59 L458.45,257.45 L458.69,258.26 L458.91,259.06 L459.11,259.84 L459.3,260.62 L459.48,261.4 L459.66,262.2 L459.83,263.03 L460,263.9 L460.17,264.85 L460.35,265.88 L460.52,266.98 L460.68,268.1 L460.83,269.21 L460.97,270.28 L461.1,271.28 L461.22,272.17 L461.32,272.92 L461.4,273.5" fill="none" stroke="#d8404a" stroke-width="1.1" stroke-linejoin="round" clip-path="url(#cle)"/>
<path d="M463,273 L463.07,272.45 L463.15,271.71 L463.25,270.84 L463.36,269.86 L463.49,268.81 L463.62,267.74 L463.76,266.69 L463.9,265.69 L464.05,264.78 L464.2,264 L464.35,263.33 L464.52,262.72 L464.69,262.15 L464.86,261.63 L465.04,261.14 L465.23,260.69 L465.42,260.25 L465.61,259.83 L465.81,259.41 L466,259 L466.19,258.6 L466.37,258.24 L466.54,257.91 L466.72,257.6 L466.91,257.29 L467.1,257 L467.31,256.7 L467.55,256.38 L467.81,256.05 L468.1,255.7 L468.43,255.31 L468.79,254.89 L469.17,254.45 L469.58,254 L470,253.54 L470.44,253.1 L470.88,252.67 L471.32,252.27 L471.76,251.91 L472.2,251.6 L472.65,251.33 L473.15,251.09 L473.66,250.89 L474.19,250.7 L474.71,250.54 L475.2,250.4 L475.67,250.28 L476.08,250.18 L476.43,250.08 L476.7,250" fill="none" stroke="#d8404a" stroke-width="1.1" stroke-linejoin="round" clip-path="url(#cle)"/>
<text transform="translate(423.2,231.2) scale(1,1.12)" font-size="6.4" text-anchor="end">10<tspan font-size="4.6" dy="-2.8">0</tspan></text>
<text transform="translate(423.2,254.1) scale(1,1.12)" font-size="6.4" text-anchor="end">10<tspan font-size="4.6" dy="-2.8">−2</tspan></text>
<text transform="translate(423.2,277) scale(1,1.12)" font-size="6.4" text-anchor="end">10<tspan font-size="4.6" dy="-2.8">−4</tspan></text>
<text transform="translate(425.3,282.2) scale(1,1.12)" font-size="6.4" text-anchor="middle">2.2</text>
<text transform="translate(442.53,282.2) scale(1,1.12)" font-size="6.4" text-anchor="middle">2.4</text>
<text transform="translate(459.77,282.2) scale(1,1.12)" font-size="6.4" text-anchor="middle">2.6</text>
<text transform="translate(477,282.2) scale(1,1.12)" font-size="6.4" text-anchor="middle">2.8</text>
<path d="M559.2,206.68 L559.7,208.38 L560.2,210.17 L560.7,212.04 L561.2,213.99 L561.7,216.03 L562.2,218.14 L562.7,220.32 L563.2,222.57 L563.7,224.89 L564.2,227.27 L564.7,229.71 L565.2,232.21 L565.7,234.75 L566.2,237.35 L566.7,239.99 L567.2,242.67 L567.7,245.39 L568.2,248.15 L568.7,250.94 L569.2,253.76 L569.7,256.6 L570.2,259.46 L570.7,262.34 L571.2,265.23 L571.7,268.14 L572.2,271.05 L572.7,273.97 L573.2,276.89 L573.7,279.8 L574.2,282.71 L574.7,285.61 L575.2,288.5 L575.7,291.37 L576.2,294.23 L576.7,297.05 L577.2,299.86 L577.7,302.63 L577.8,303.18 L577.95,303.25 L578.14,302.53 L578.36,301.67 L578.61,300.71 L578.89,299.69 L579.18,298.63 L579.49,297.58 L579.82,296.56 L580.16,295.63 L580.5,294.8 L580.85,294.06 L581.2,293.37 L581.56,292.72 L581.94,292.09 L582.34,291.49 L582.75,290.9 L583.19,290.33 L583.66,289.76 L584.16,289.18 L584.7,288.6 L585.29,288.01 L585.93,287.41 L586.61,286.81 L587.33,286.21 L588.06,285.63 L588.8,285.05 L589.54,284.5 L590.26,283.97 L590.95,283.47 L591.6,283 L592.21,282.57 L592.79,282.17 L593.36,281.8 L593.9,281.45 L594.44,281.12 L594.98,280.81 L595.52,280.51 L596.06,280.21 L596.62,279.91 L597.2,279.6 L597.79,279.29 L598.38,278.97 L598.97,278.66 L599.57,278.35 L600.18,278.05 L600.79,277.76 L601.42,277.49 L602.06,277.24 L602.72,277 L603.4,276.8 L604.09,276.62 L604.79,276.48 L605.49,276.35 L606.21,276.24 L606.94,276.15 L607.69,276.07 L608.47,276 L609.28,275.93 L610.12,275.87 L611,275.8 L611.97,275.73 L613.06,275.68 L614.23,275.62 L615.44,275.58 L616.65,275.54 L617.82,275.5 L618.92,275.47 L619.9,275.44 L620.72,275.42 L621.35,275.4 L621.98,275.42 L622.8,275.44 L623.78,275.47 L624.88,275.5 L626.05,275.54 L627.26,275.58 L628.47,275.62 L629.64,275.68 L630.73,275.73 L631.7,275.8 L632.58,275.87 L633.42,275.93 L634.23,276 L635.01,276.07 L635.76,276.15 L636.49,276.24 L637.21,276.35 L637.91,276.48 L638.61,276.62 L639.3,276.8 L639.98,277 L640.64,277.24 L641.28,277.49 L641.91,277.76 L642.52,278.05 L643.13,278.35 L643.73,278.66 L644.32,278.97 L644.91,279.29 L645.5,279.6 L646.08,279.91 L646.64,280.21 L647.18,280.51 L647.72,280.81 L648.26,281.12 L648.8,281.45 L649.34,281.8 L649.91,282.17 L650.49,282.57 L651.1,283 L651.75,283.47 L652.44,283.97 L653.16,284.5 L653.9,285.05 L654.64,285.63 L655.37,286.21 L656.09,286.81 L656.77,287.41 L657.41,288.01 L658,288.6 L658.54,289.18 L659.04,289.76 L659.51,290.33 L659.95,290.9 L660.36,291.49 L660.76,292.09 L661.14,292.72 L661.5,293.37 L661.85,294.06 L662.2,294.8 L662.54,295.63 L662.88,296.56 L663.21,297.58 L663.52,298.63 L663.81,299.69 L664.09,300.71 L664.34,301.67 L664.56,302.53 L664.75,303.25 L664.9,303.18 L665,302.63 L665.5,299.86 L666,297.05 L666.5,294.23 L667,291.37 L667.5,288.5 L668,285.61 L668.5,282.71 L669,279.8 L669.5,276.89 L670,273.97 L670.5,271.05 L671,268.14 L671.5,265.23 L672,262.34 L672.5,259.46 L673,256.6 L673.5,253.76 L674,250.94 L674.5,248.15 L675,245.39 L675.5,242.67 L676,239.99 L676.5,237.35 L677,234.75 L677.5,232.21 L678,229.71 L678.5,227.27 L679,224.89 L679.5,222.57 L680,220.32 L680.5,218.14 L681,216.03 L681.5,213.99 L682,212.04 L682.5,210.17 L683,208.38 L683.5,206.68" fill="none" stroke="#4f8fcc" stroke-width="1.3" stroke-linejoin="round"/>
<rect x="559.3" y="206.5" width="125.1" height="109.7" fill="none" stroke="#2a2a2a" stroke-width="1.15"/>
<path d="M568.38,316.2v-3M568.38,206.5v3M586.22,316.2v-3M586.22,206.5v3M604.06,316.2v-3M604.06,206.5v3M621.9,316.2v-3M621.9,206.5v3M639.74,316.2v-3M639.74,206.5v3M657.58,316.2v-3M657.58,206.5v3M675.42,316.2v-3M675.42,206.5v3" stroke="#2a2a2a" stroke-width="0.8" fill="none"/>
<path d="M577.3,316.2v-1.7M577.3,206.5v1.7M595.14,316.2v-1.7M595.14,206.5v1.7M612.98,316.2v-1.7M612.98,206.5v1.7M630.82,316.2v-1.7M630.82,206.5v1.7M648.66,316.2v-1.7M648.66,206.5v1.7M666.5,316.2v-1.7M666.5,206.5v1.7" stroke="#2a2a2a" stroke-width="0.8" fill="none"/>
<path d="M559.3,284.94h3M684.4,284.94h-3M559.3,253.68h3M684.4,253.68h-3M559.3,222.42h3M684.4,222.42h-3" stroke="#2a2a2a" stroke-width="0.8" fill="none"/>
<path d="M559.3,311.49h1.7M684.4,311.49h-1.7M559.3,308.74h1.7M684.4,308.74h-1.7M559.3,306.79h1.7M684.4,306.79h-1.7M559.3,305.28h1.7M684.4,305.28h-1.7M559.3,304.04h1.7M684.4,304.04h-1.7M559.3,302.99h1.7M684.4,302.99h-1.7M559.3,302.08h1.7M684.4,302.08h-1.7M559.3,301.29h1.7M684.4,301.29h-1.7M559.3,300.57h1.7M684.4,300.57h-1.7M559.3,280.23h1.7M684.4,280.23h-1.7M559.3,277.48h1.7M684.4,277.48h-1.7M559.3,275.53h1.7M684.4,275.53h-1.7M559.3,274.02h1.7M684.4,274.02h-1.7M559.3,272.78h1.7M684.4,272.78h-1.7M559.3,271.73h1.7M684.4,271.73h-1.7M559.3,270.82h1.7M684.4,270.82h-1.7M559.3,270.03h1.7M684.4,270.03h-1.7M559.3,269.31h1.7M684.4,269.31h-1.7M559.3,248.97h1.7M684.4,248.97h-1.7M559.3,246.22h1.7M684.4,246.22h-1.7M559.3,244.27h1.7M684.4,244.27h-1.7M559.3,242.76h1.7M684.4,242.76h-1.7M559.3,241.52h1.7M684.4,241.52h-1.7M559.3,240.47h1.7M684.4,240.47h-1.7M559.3,239.56h1.7M684.4,239.56h-1.7M559.3,238.77h1.7M684.4,238.77h-1.7M559.3,238.05h1.7M684.4,238.05h-1.7M559.3,217.71h1.7M684.4,217.71h-1.7M559.3,214.96h1.7M684.4,214.96h-1.7M559.3,213.01h1.7M684.4,213.01h-1.7M559.3,211.5h1.7M684.4,211.5h-1.7M559.3,210.26h1.7M684.4,210.26h-1.7M559.3,209.21h1.7M684.4,209.21h-1.7M559.3,208.3h1.7M684.4,208.3h-1.7M559.3,207.51h1.7M684.4,207.51h-1.7M559.3,206.79h1.7M684.4,206.79h-1.7" stroke="#2a2a2a" stroke-width="0.8" fill="none"/>
<text transform="translate(555.2,226.12) scale(1,1.12)" font-size="8" text-anchor="end">10<tspan font-size="6.1" dy="-3.6">−2</tspan></text>
<text transform="translate(555.2,257.38) scale(1,1.12)" font-size="8" text-anchor="end">10<tspan font-size="6.1" dy="-3.6">−4</tspan></text>
<text transform="translate(555.2,288.64) scale(1,1.12)" font-size="8" text-anchor="end">10<tspan font-size="6.1" dy="-3.6">−6</tspan></text>
<text transform="translate(555.2,319.9) scale(1,1.12)" font-size="8" text-anchor="end">10<tspan font-size="6.1" dy="-3.6">−8</tspan></text>
<text transform="translate(568.38,327.7) scale(1,1.12)" font-size="8" text-anchor="middle">−3</text>
<text transform="translate(586.22,327.7) scale(1,1.12)" font-size="8" text-anchor="middle">−2</text>
<text transform="translate(604.06,327.7) scale(1,1.12)" font-size="8" text-anchor="middle">−1</text>
<text transform="translate(621.9,327.7) scale(1,1.12)" font-size="8" text-anchor="middle">0</text>
<text transform="translate(639.74,327.7) scale(1,1.12)" font-size="8" text-anchor="middle">1</text>
<text transform="translate(657.58,327.7) scale(1,1.12)" font-size="8" text-anchor="middle">2</text>
<text transform="translate(675.42,327.7) scale(1,1.12)" font-size="8" text-anchor="middle">3</text>
<text transform="translate(621.9,340.3) scale(1,1.12)" font-size="8" text-anchor="middle"><tspan font-style="italic">eV</tspan><tspan font-size="6.4" dy="3.0" stroke-width="0">g</tspan><tspan dy="-3.0"> [eV]</tspan></text>
<text transform="translate(531.2,261.1) rotate(-90) scale(1.05,1)" font-size="8.6" text-anchor="middle"><tspan font-style="italic">T</tspan><tspan font-size="6" dy="2.2">K</tspan><tspan dy="-2.2" dx="0.6">/</tspan><tspan font-style="italic" dx="0.4">D</tspan></text>
<text transform="translate(525.1,199.6) scale(1,1.18)" font-size="13" font-weight="bold">f</text>
</svg>
</body></html>
